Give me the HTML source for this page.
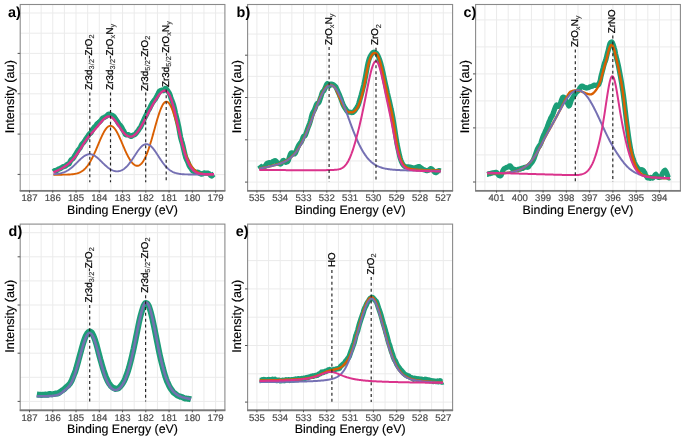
<!DOCTYPE html><html><head><meta charset="utf-8"><style>
html,body{margin:0;padding:0;background:#fff;}
svg{display:block;will-change:transform;}
text{font-family:"Liberation Sans",sans-serif;text-rendering:geometricPrecision;}
.tk{font-size:9.6px;fill:#4d4d4d;text-anchor:middle;stroke:#4d4d4d;stroke-width:0.2px;}
.ax{font-size:12.4px;fill:#000;text-anchor:middle;stroke:#000;stroke-width:0.15px;}
.lb{font-size:9.8px;fill:#000;stroke:#000;stroke-width:0.25px;}
.sb{font-size:7.2px;fill:#333;stroke:#333;stroke-width:0.15px;letter-spacing:0.3px;}
.pl{font-size:14.4px;font-weight:bold;fill:#000;}
</style></head><body><svg width="685" height="437" viewBox="0 0 685 437">
<rect width="685" height="437" fill="#fff"/>
<line x1="20.2" y1="13.00" x2="224.9" y2="13.00" stroke="#ebebeb" stroke-width="1"/>
<line x1="20.2" y1="33.20" x2="224.9" y2="33.20" stroke="#ebebeb" stroke-width="1"/>
<line x1="20.2" y1="53.40" x2="224.9" y2="53.40" stroke="#ebebeb" stroke-width="1"/>
<line x1="20.2" y1="73.60" x2="224.9" y2="73.60" stroke="#ebebeb" stroke-width="1"/>
<line x1="20.2" y1="93.80" x2="224.9" y2="93.80" stroke="#ebebeb" stroke-width="1"/>
<line x1="20.2" y1="114.00" x2="224.9" y2="114.00" stroke="#ebebeb" stroke-width="1"/>
<line x1="20.2" y1="134.20" x2="224.9" y2="134.20" stroke="#ebebeb" stroke-width="1"/>
<line x1="20.2" y1="154.40" x2="224.9" y2="154.40" stroke="#ebebeb" stroke-width="1"/>
<line x1="20.2" y1="174.60" x2="224.9" y2="174.60" stroke="#ebebeb" stroke-width="1"/>
<line x1="215.60" y1="4.5" x2="215.60" y2="190.5" stroke="#ebebeb" stroke-width="1"/>
<line x1="203.96" y1="4.5" x2="203.96" y2="190.5" stroke="#ebebeb" stroke-width="1"/>
<line x1="192.33" y1="4.5" x2="192.33" y2="190.5" stroke="#ebebeb" stroke-width="1"/>
<line x1="180.70" y1="4.5" x2="180.70" y2="190.5" stroke="#ebebeb" stroke-width="1"/>
<line x1="169.07" y1="4.5" x2="169.07" y2="190.5" stroke="#ebebeb" stroke-width="1"/>
<line x1="157.44" y1="4.5" x2="157.44" y2="190.5" stroke="#ebebeb" stroke-width="1"/>
<line x1="145.81" y1="4.5" x2="145.81" y2="190.5" stroke="#ebebeb" stroke-width="1"/>
<line x1="134.18" y1="4.5" x2="134.18" y2="190.5" stroke="#ebebeb" stroke-width="1"/>
<line x1="122.55" y1="4.5" x2="122.55" y2="190.5" stroke="#ebebeb" stroke-width="1"/>
<line x1="110.92" y1="4.5" x2="110.92" y2="190.5" stroke="#ebebeb" stroke-width="1"/>
<line x1="99.29" y1="4.5" x2="99.29" y2="190.5" stroke="#ebebeb" stroke-width="1"/>
<line x1="87.66" y1="4.5" x2="87.66" y2="190.5" stroke="#ebebeb" stroke-width="1"/>
<line x1="76.03" y1="4.5" x2="76.03" y2="190.5" stroke="#ebebeb" stroke-width="1"/>
<line x1="64.40" y1="4.5" x2="64.40" y2="190.5" stroke="#ebebeb" stroke-width="1"/>
<line x1="52.77" y1="4.5" x2="52.77" y2="190.5" stroke="#ebebeb" stroke-width="1"/>
<line x1="41.14" y1="4.5" x2="41.14" y2="190.5" stroke="#ebebeb" stroke-width="1"/>
<line x1="29.50" y1="4.5" x2="29.50" y2="190.5" stroke="#ebebeb" stroke-width="1"/>
<line x1="247.6" y1="12.90" x2="452.6" y2="12.90" stroke="#ebebeb" stroke-width="1"/>
<line x1="247.6" y1="34.05" x2="452.6" y2="34.05" stroke="#ebebeb" stroke-width="1"/>
<line x1="247.6" y1="55.20" x2="452.6" y2="55.20" stroke="#ebebeb" stroke-width="1"/>
<line x1="247.6" y1="76.35" x2="452.6" y2="76.35" stroke="#ebebeb" stroke-width="1"/>
<line x1="247.6" y1="97.50" x2="452.6" y2="97.50" stroke="#ebebeb" stroke-width="1"/>
<line x1="247.6" y1="118.65" x2="452.6" y2="118.65" stroke="#ebebeb" stroke-width="1"/>
<line x1="247.6" y1="139.80" x2="452.6" y2="139.80" stroke="#ebebeb" stroke-width="1"/>
<line x1="247.6" y1="160.95" x2="452.6" y2="160.95" stroke="#ebebeb" stroke-width="1"/>
<line x1="247.6" y1="182.10" x2="452.6" y2="182.10" stroke="#ebebeb" stroke-width="1"/>
<line x1="443.28" y1="4.5" x2="443.28" y2="190.5" stroke="#ebebeb" stroke-width="1"/>
<line x1="431.63" y1="4.5" x2="431.63" y2="190.5" stroke="#ebebeb" stroke-width="1"/>
<line x1="419.99" y1="4.5" x2="419.99" y2="190.5" stroke="#ebebeb" stroke-width="1"/>
<line x1="408.34" y1="4.5" x2="408.34" y2="190.5" stroke="#ebebeb" stroke-width="1"/>
<line x1="396.69" y1="4.5" x2="396.69" y2="190.5" stroke="#ebebeb" stroke-width="1"/>
<line x1="385.04" y1="4.5" x2="385.04" y2="190.5" stroke="#ebebeb" stroke-width="1"/>
<line x1="373.40" y1="4.5" x2="373.40" y2="190.5" stroke="#ebebeb" stroke-width="1"/>
<line x1="361.75" y1="4.5" x2="361.75" y2="190.5" stroke="#ebebeb" stroke-width="1"/>
<line x1="350.10" y1="4.5" x2="350.10" y2="190.5" stroke="#ebebeb" stroke-width="1"/>
<line x1="338.45" y1="4.5" x2="338.45" y2="190.5" stroke="#ebebeb" stroke-width="1"/>
<line x1="326.80" y1="4.5" x2="326.80" y2="190.5" stroke="#ebebeb" stroke-width="1"/>
<line x1="315.16" y1="4.5" x2="315.16" y2="190.5" stroke="#ebebeb" stroke-width="1"/>
<line x1="303.51" y1="4.5" x2="303.51" y2="190.5" stroke="#ebebeb" stroke-width="1"/>
<line x1="291.86" y1="4.5" x2="291.86" y2="190.5" stroke="#ebebeb" stroke-width="1"/>
<line x1="280.21" y1="4.5" x2="280.21" y2="190.5" stroke="#ebebeb" stroke-width="1"/>
<line x1="268.57" y1="4.5" x2="268.57" y2="190.5" stroke="#ebebeb" stroke-width="1"/>
<line x1="256.92" y1="4.5" x2="256.92" y2="190.5" stroke="#ebebeb" stroke-width="1"/>
<line x1="475.6" y1="19.90" x2="680.4" y2="19.90" stroke="#ebebeb" stroke-width="1"/>
<line x1="475.6" y1="46.90" x2="680.4" y2="46.90" stroke="#ebebeb" stroke-width="1"/>
<line x1="475.6" y1="73.90" x2="680.4" y2="73.90" stroke="#ebebeb" stroke-width="1"/>
<line x1="475.6" y1="100.90" x2="680.4" y2="100.90" stroke="#ebebeb" stroke-width="1"/>
<line x1="475.6" y1="127.90" x2="680.4" y2="127.90" stroke="#ebebeb" stroke-width="1"/>
<line x1="475.6" y1="154.90" x2="680.4" y2="154.90" stroke="#ebebeb" stroke-width="1"/>
<line x1="475.6" y1="181.90" x2="680.4" y2="181.90" stroke="#ebebeb" stroke-width="1"/>
<line x1="671.09" y1="4.5" x2="671.09" y2="190.5" stroke="#ebebeb" stroke-width="1"/>
<line x1="659.45" y1="4.5" x2="659.45" y2="190.5" stroke="#ebebeb" stroke-width="1"/>
<line x1="647.82" y1="4.5" x2="647.82" y2="190.5" stroke="#ebebeb" stroke-width="1"/>
<line x1="636.18" y1="4.5" x2="636.18" y2="190.5" stroke="#ebebeb" stroke-width="1"/>
<line x1="624.55" y1="4.5" x2="624.55" y2="190.5" stroke="#ebebeb" stroke-width="1"/>
<line x1="612.91" y1="4.5" x2="612.91" y2="190.5" stroke="#ebebeb" stroke-width="1"/>
<line x1="601.27" y1="4.5" x2="601.27" y2="190.5" stroke="#ebebeb" stroke-width="1"/>
<line x1="589.64" y1="4.5" x2="589.64" y2="190.5" stroke="#ebebeb" stroke-width="1"/>
<line x1="578.00" y1="4.5" x2="578.00" y2="190.5" stroke="#ebebeb" stroke-width="1"/>
<line x1="566.36" y1="4.5" x2="566.36" y2="190.5" stroke="#ebebeb" stroke-width="1"/>
<line x1="554.73" y1="4.5" x2="554.73" y2="190.5" stroke="#ebebeb" stroke-width="1"/>
<line x1="543.09" y1="4.5" x2="543.09" y2="190.5" stroke="#ebebeb" stroke-width="1"/>
<line x1="531.45" y1="4.5" x2="531.45" y2="190.5" stroke="#ebebeb" stroke-width="1"/>
<line x1="519.82" y1="4.5" x2="519.82" y2="190.5" stroke="#ebebeb" stroke-width="1"/>
<line x1="508.18" y1="4.5" x2="508.18" y2="190.5" stroke="#ebebeb" stroke-width="1"/>
<line x1="496.55" y1="4.5" x2="496.55" y2="190.5" stroke="#ebebeb" stroke-width="1"/>
<line x1="484.91" y1="4.5" x2="484.91" y2="190.5" stroke="#ebebeb" stroke-width="1"/>
<line x1="20.2" y1="232.70" x2="224.9" y2="232.70" stroke="#ebebeb" stroke-width="1"/>
<line x1="20.2" y1="256.80" x2="224.9" y2="256.80" stroke="#ebebeb" stroke-width="1"/>
<line x1="20.2" y1="280.90" x2="224.9" y2="280.90" stroke="#ebebeb" stroke-width="1"/>
<line x1="20.2" y1="305.00" x2="224.9" y2="305.00" stroke="#ebebeb" stroke-width="1"/>
<line x1="20.2" y1="329.10" x2="224.9" y2="329.10" stroke="#ebebeb" stroke-width="1"/>
<line x1="20.2" y1="353.20" x2="224.9" y2="353.20" stroke="#ebebeb" stroke-width="1"/>
<line x1="20.2" y1="377.30" x2="224.9" y2="377.30" stroke="#ebebeb" stroke-width="1"/>
<line x1="20.2" y1="401.40" x2="224.9" y2="401.40" stroke="#ebebeb" stroke-width="1"/>
<line x1="215.60" y1="224.1" x2="215.60" y2="410.1" stroke="#ebebeb" stroke-width="1"/>
<line x1="203.96" y1="224.1" x2="203.96" y2="410.1" stroke="#ebebeb" stroke-width="1"/>
<line x1="192.33" y1="224.1" x2="192.33" y2="410.1" stroke="#ebebeb" stroke-width="1"/>
<line x1="180.70" y1="224.1" x2="180.70" y2="410.1" stroke="#ebebeb" stroke-width="1"/>
<line x1="169.07" y1="224.1" x2="169.07" y2="410.1" stroke="#ebebeb" stroke-width="1"/>
<line x1="157.44" y1="224.1" x2="157.44" y2="410.1" stroke="#ebebeb" stroke-width="1"/>
<line x1="145.81" y1="224.1" x2="145.81" y2="410.1" stroke="#ebebeb" stroke-width="1"/>
<line x1="134.18" y1="224.1" x2="134.18" y2="410.1" stroke="#ebebeb" stroke-width="1"/>
<line x1="122.55" y1="224.1" x2="122.55" y2="410.1" stroke="#ebebeb" stroke-width="1"/>
<line x1="110.92" y1="224.1" x2="110.92" y2="410.1" stroke="#ebebeb" stroke-width="1"/>
<line x1="99.29" y1="224.1" x2="99.29" y2="410.1" stroke="#ebebeb" stroke-width="1"/>
<line x1="87.66" y1="224.1" x2="87.66" y2="410.1" stroke="#ebebeb" stroke-width="1"/>
<line x1="76.03" y1="224.1" x2="76.03" y2="410.1" stroke="#ebebeb" stroke-width="1"/>
<line x1="64.40" y1="224.1" x2="64.40" y2="410.1" stroke="#ebebeb" stroke-width="1"/>
<line x1="52.77" y1="224.1" x2="52.77" y2="410.1" stroke="#ebebeb" stroke-width="1"/>
<line x1="41.14" y1="224.1" x2="41.14" y2="410.1" stroke="#ebebeb" stroke-width="1"/>
<line x1="29.50" y1="224.1" x2="29.50" y2="410.1" stroke="#ebebeb" stroke-width="1"/>
<line x1="247.6" y1="232.30" x2="452.6" y2="232.30" stroke="#ebebeb" stroke-width="1"/>
<line x1="247.6" y1="260.60" x2="452.6" y2="260.60" stroke="#ebebeb" stroke-width="1"/>
<line x1="247.6" y1="288.90" x2="452.6" y2="288.90" stroke="#ebebeb" stroke-width="1"/>
<line x1="247.6" y1="317.20" x2="452.6" y2="317.20" stroke="#ebebeb" stroke-width="1"/>
<line x1="247.6" y1="345.50" x2="452.6" y2="345.50" stroke="#ebebeb" stroke-width="1"/>
<line x1="247.6" y1="373.80" x2="452.6" y2="373.80" stroke="#ebebeb" stroke-width="1"/>
<line x1="247.6" y1="402.10" x2="452.6" y2="402.10" stroke="#ebebeb" stroke-width="1"/>
<line x1="443.28" y1="224.1" x2="443.28" y2="410.1" stroke="#ebebeb" stroke-width="1"/>
<line x1="431.63" y1="224.1" x2="431.63" y2="410.1" stroke="#ebebeb" stroke-width="1"/>
<line x1="419.99" y1="224.1" x2="419.99" y2="410.1" stroke="#ebebeb" stroke-width="1"/>
<line x1="408.34" y1="224.1" x2="408.34" y2="410.1" stroke="#ebebeb" stroke-width="1"/>
<line x1="396.69" y1="224.1" x2="396.69" y2="410.1" stroke="#ebebeb" stroke-width="1"/>
<line x1="385.04" y1="224.1" x2="385.04" y2="410.1" stroke="#ebebeb" stroke-width="1"/>
<line x1="373.40" y1="224.1" x2="373.40" y2="410.1" stroke="#ebebeb" stroke-width="1"/>
<line x1="361.75" y1="224.1" x2="361.75" y2="410.1" stroke="#ebebeb" stroke-width="1"/>
<line x1="350.10" y1="224.1" x2="350.10" y2="410.1" stroke="#ebebeb" stroke-width="1"/>
<line x1="338.45" y1="224.1" x2="338.45" y2="410.1" stroke="#ebebeb" stroke-width="1"/>
<line x1="326.80" y1="224.1" x2="326.80" y2="410.1" stroke="#ebebeb" stroke-width="1"/>
<line x1="315.16" y1="224.1" x2="315.16" y2="410.1" stroke="#ebebeb" stroke-width="1"/>
<line x1="303.51" y1="224.1" x2="303.51" y2="410.1" stroke="#ebebeb" stroke-width="1"/>
<line x1="291.86" y1="224.1" x2="291.86" y2="410.1" stroke="#ebebeb" stroke-width="1"/>
<line x1="280.21" y1="224.1" x2="280.21" y2="410.1" stroke="#ebebeb" stroke-width="1"/>
<line x1="268.57" y1="224.1" x2="268.57" y2="410.1" stroke="#ebebeb" stroke-width="1"/>
<line x1="256.92" y1="224.1" x2="256.92" y2="410.1" stroke="#ebebeb" stroke-width="1"/>
<path d="M53.40,171.65 L53.98,171.14 L54.55,170.64 L55.13,170.56 L55.70,170.51 L56.28,170.75 L56.85,170.55 L57.43,170.07 L58.01,169.37 L58.58,168.98 L59.16,168.99 L59.73,168.80 L60.31,168.53 L60.88,168.00 L61.46,167.81 L62.03,167.41 L62.61,167.02 L63.19,166.59 L63.76,166.51 L64.34,166.36 L64.91,166.18 L65.49,165.94 L66.06,165.56 L66.64,165.02 L67.22,164.32 L67.79,164.20 L68.37,164.15 L68.94,163.90 L69.52,163.04 L70.09,161.65 L70.67,160.63 L71.24,159.74 L71.82,159.46 L72.40,159.08 L72.97,158.61 L73.55,157.76 L74.12,156.86 L74.70,155.82 L75.27,154.98 L75.85,154.00 L76.43,153.16 L77.00,152.01 L77.58,151.17 L78.15,150.21 L78.73,149.64 L79.30,148.94 L79.88,148.20 L80.45,147.09 L81.03,145.83 L81.61,144.70 L82.18,143.96 L82.76,143.35 L83.33,142.68 L83.91,142.12 L84.48,141.16 L85.06,140.41 L85.64,139.34 L86.21,138.50 L86.79,137.64 L87.36,136.90 L87.94,136.16 L88.51,135.17 L89.09,134.31 L89.66,133.71 L90.24,133.40 L90.82,132.92 L91.39,132.07 L91.97,130.87 L92.54,129.89 L93.12,128.90 L93.69,128.14 L94.27,127.24 L94.85,126.68 L95.42,126.13 L96.00,125.53 L96.57,124.59 L97.15,123.74 L97.72,123.30 L98.30,122.90 L98.87,122.47 L99.45,121.84 L100.03,121.42 L100.60,120.77 L101.18,120.02 L101.75,119.20 L102.33,118.49 L102.90,117.89 L103.48,117.69 L104.06,117.51 L104.63,117.36 L105.21,116.84 L105.78,116.71 L106.36,116.21 L106.93,115.85 L107.51,115.07 L108.08,114.58 L108.66,114.10 L109.24,114.14 L109.81,114.24 L110.39,114.75 L110.96,114.90 L111.54,115.14 L112.11,115.33 L112.69,115.65 L113.27,115.99 L113.84,116.44 L114.42,117.07 L114.99,118.00 L115.57,118.83 L116.14,119.65 L116.72,120.52 L117.29,121.38 L117.87,122.40 L118.45,123.40 L119.02,124.21 L119.60,124.73 L120.17,125.22 L120.75,125.88 L121.32,126.76 L121.90,127.87 L122.48,128.91 L123.05,130.00 L123.63,130.81 L124.20,131.94 L124.78,133.09 L125.35,134.22 L125.93,134.76 L126.50,134.92 L127.08,134.77 L127.66,134.58 L128.23,134.68 L128.81,134.88 L129.38,135.39 L129.96,135.67 L130.53,136.19 L131.11,136.35 L131.69,136.27 L132.26,135.63 L132.84,135.20 L133.41,135.00 L133.99,134.89 L134.56,134.71 L135.14,134.28 L135.71,133.81 L136.29,132.95 L136.87,132.18 L137.44,131.37 L138.02,130.85 L138.59,129.93 L139.17,129.05 L139.74,128.04 L140.32,127.46 L140.90,126.39 L141.47,125.21 L142.05,123.81 L142.62,122.54 L143.20,121.27 L143.77,120.04 L144.35,118.73 L144.92,117.53 L145.50,116.39 L146.08,115.43 L146.65,114.28 L147.23,112.80 L147.80,111.41 L148.38,110.31 L148.95,109.52 L149.53,108.57 L150.11,107.34 L150.68,106.18 L151.26,104.99 L151.83,103.95 L152.41,102.86 L152.98,102.07 L153.56,101.18 L154.13,100.51 L154.71,99.69 L155.29,99.15 L155.86,98.09 L156.44,96.97 L157.01,95.90 L157.59,94.85 L158.16,93.68 L158.74,92.35 L159.32,91.41 L159.89,90.95 L160.47,90.57 L161.04,90.30 L161.62,90.21 L162.19,90.33 L162.77,90.53 L163.34,90.55 L163.92,90.13 L164.50,89.47 L165.07,88.55 L165.65,88.34 L166.22,88.75 L166.80,89.63 L167.37,90.42 L167.95,91.07 L168.53,92.02 L169.10,92.91 L169.68,94.18 L170.25,95.65 L170.83,97.53 L171.40,99.16 L171.98,100.69 L172.55,102.12 L173.13,103.81 L173.71,105.66 L174.28,107.83 L174.86,110.35 L175.43,113.00 L176.01,115.41 L176.58,117.69 L177.16,120.01 L177.74,122.43 L178.31,125.03 L178.89,127.68 L179.46,130.97 L180.04,134.23 L180.61,137.29 L181.19,139.55 L181.76,141.54 L182.34,143.40 L182.92,145.63 L183.49,148.24 L184.07,150.83 L184.64,153.57 L185.22,155.65 L185.79,157.70 L186.37,159.04 L186.95,160.22 L187.52,161.35 L188.10,162.73 L188.67,164.25 L189.25,165.71 L189.82,166.76 L190.40,167.44 L190.97,168.26 L191.55,169.21 L192.13,170.23 L192.70,170.74 L193.28,171.12 L193.85,171.31 L194.43,171.55 L195.00,171.85 L195.58,172.36 L196.16,172.36 L196.73,172.38 L197.31,172.13 L197.88,172.24 L198.46,172.47 L199.03,172.92 L199.61,173.36 L200.18,173.57 L200.76,173.84 L201.34,174.11 L201.91,174.07 L202.49,173.87 L203.06,173.54 L203.64,173.20 L204.21,173.00 L204.79,172.95 L205.37,173.11 L205.94,173.14 L206.52,173.15 L207.09,173.17 L207.67,173.19 L208.24,173.25 L208.82,173.54 L209.39,173.91 L209.97,174.56 L210.55,175.25 L211.12,175.77 L211.70,175.96 L212.27,175.46 L212.85,175.07 L213.42,174.40 L214.00,174.09" fill="none" stroke="#1b9e77" stroke-width="5.3" stroke-linejoin="round" stroke-linecap="butt" stroke-opacity="1"/>
<path d="M53.40,174.70 L53.98,174.70 L54.55,174.70 L55.13,174.70 L55.70,174.70 L56.28,174.70 L56.85,174.70 L57.43,174.69 L58.01,174.69 L58.58,174.69 L59.16,174.69 L59.73,174.69 L60.31,174.69 L60.88,174.68 L61.46,174.68 L62.03,174.68 L62.61,174.67 L63.19,174.67 L63.76,174.66 L64.34,174.65 L64.91,174.64 L65.49,174.63 L66.06,174.62 L66.64,174.60 L67.22,174.59 L67.79,174.57 L68.37,174.54 L68.94,174.52 L69.52,174.49 L70.09,174.45 L70.67,174.41 L71.24,174.37 L71.82,174.31 L72.40,174.25 L72.97,174.19 L73.55,174.11 L74.12,174.02 L74.70,173.93 L75.27,173.82 L75.85,173.69 L76.43,173.55 L77.00,173.40 L77.58,173.23 L78.15,173.04 L78.73,172.83 L79.30,172.59 L79.88,172.34 L80.45,172.05 L81.03,171.74 L81.61,171.40 L82.18,171.03 L82.76,170.62 L83.33,170.19 L83.91,169.71 L84.48,169.19 L85.06,168.64 L85.64,168.04 L86.21,167.41 L86.79,166.72 L87.36,166.00 L87.94,165.22 L88.51,164.40 L89.09,163.53 L89.66,162.62 L90.24,161.66 L90.82,160.65 L91.39,159.60 L91.97,158.50 L92.54,157.36 L93.12,156.18 L93.69,154.97 L94.27,153.72 L94.85,152.44 L95.42,151.13 L96.00,149.79 L96.57,148.44 L97.15,147.08 L97.72,145.70 L98.30,144.33 L98.87,142.95 L99.45,141.59 L100.03,140.24 L100.60,138.91 L101.18,137.62 L101.75,136.36 L102.33,135.14 L102.90,133.97 L103.48,132.85 L104.06,131.80 L104.63,130.82 L105.21,129.91 L105.78,129.08 L106.36,128.33 L106.93,127.67 L107.51,127.11 L108.08,126.64 L108.66,126.28 L109.24,126.01 L109.81,125.85 L110.39,125.80 L110.96,125.85 L111.54,126.00 L112.11,126.26 L112.69,126.62 L113.27,127.08 L113.84,127.64 L114.42,128.29 L114.99,129.03 L115.57,129.85 L116.14,130.76 L116.72,131.74 L117.29,132.78 L117.87,133.89 L118.45,135.05 L119.02,136.26 L119.60,137.51 L120.17,138.80 L120.75,140.11 L121.32,141.45 L121.90,142.80 L122.48,144.15 L123.05,145.51 L123.63,146.86 L124.20,148.20 L124.78,149.52 L125.35,150.81 L125.93,152.08 L126.50,153.31 L127.08,154.51 L127.66,155.66 L128.23,156.76 L128.81,157.82 L129.38,158.82 L129.96,159.76 L130.53,160.64 L131.11,161.46 L131.69,162.22 L132.26,162.91 L132.84,163.52 L133.41,164.07 L133.99,164.55 L134.56,164.95 L135.14,165.27 L135.71,165.52 L136.29,165.69 L136.87,165.78 L137.44,165.79 L138.02,165.72 L138.59,165.57 L139.17,165.33 L139.74,165.01 L140.32,164.60 L140.90,164.10 L141.47,163.52 L142.05,162.85 L142.62,162.09 L143.20,161.24 L143.77,160.30 L144.35,159.27 L144.92,158.16 L145.50,156.96 L146.08,155.67 L146.65,154.30 L147.23,152.84 L147.80,151.31 L148.38,149.70 L148.95,148.02 L149.53,146.26 L150.11,144.45 L150.68,142.58 L151.26,140.65 L151.83,138.68 L152.41,136.67 L152.98,134.63 L153.56,132.58 L154.13,130.50 L154.71,128.43 L155.29,126.36 L155.86,124.30 L156.44,122.28 L157.01,120.29 L157.59,118.35 L158.16,116.47 L158.74,114.65 L159.32,112.92 L159.89,111.28 L160.47,109.74 L161.04,108.31 L161.62,107.00 L162.19,105.81 L162.77,104.76 L163.34,103.85 L163.92,103.09 L164.50,102.48 L165.07,102.03 L165.65,101.74 L166.22,101.61 L166.80,101.64 L167.37,101.83 L167.95,102.19 L168.53,102.70 L169.10,103.37 L169.68,104.19 L170.25,105.15 L170.83,106.26 L171.40,107.50 L171.98,108.86 L172.55,110.33 L173.13,111.92 L173.71,113.60 L174.28,115.37 L174.86,117.21 L175.43,119.13 L176.01,121.09 L176.58,123.11 L177.16,125.15 L177.74,127.23 L178.31,129.31 L178.89,131.40 L179.46,133.49 L180.04,135.57 L180.61,137.62 L181.19,139.64 L181.76,141.63 L182.34,143.57 L182.92,145.46 L183.49,147.30 L184.07,149.08 L184.64,150.80 L185.22,152.45 L185.79,154.04 L186.37,155.55 L186.95,157.00 L187.52,158.37 L188.10,159.66 L188.67,160.89 L189.25,162.04 L189.82,163.13 L190.40,164.14 L190.97,165.09 L191.55,165.97 L192.13,166.79 L192.70,167.54 L193.28,168.24 L193.85,168.89 L194.43,169.48 L195.00,170.02 L195.58,170.52 L196.16,170.97 L196.73,171.38 L197.31,171.75 L197.88,172.08 L198.46,172.39 L199.03,172.66 L199.61,172.90 L200.18,173.12 L200.76,173.32 L201.34,173.49 L201.91,173.64 L202.49,173.78 L203.06,173.90 L203.64,174.01 L204.21,174.10 L204.79,174.18 L205.37,174.25 L205.94,174.32 L206.52,174.37 L207.09,174.42 L207.67,174.46 L208.24,174.50 L208.82,174.53 L209.39,174.55 L209.97,174.58 L210.55,174.60 L211.12,174.61 L211.70,174.63 L212.27,174.64 L212.85,174.65 L213.42,174.66 L214.00,174.66" fill="none" stroke="#d95f02" stroke-width="1.9" stroke-linejoin="round" stroke-linecap="butt" stroke-opacity="1"/>
<path d="M53.40,174.24 L53.98,174.20 L54.55,174.16 L55.13,174.11 L55.70,174.05 L56.28,173.99 L56.85,173.93 L57.43,173.85 L58.01,173.77 L58.58,173.67 L59.16,173.57 L59.73,173.46 L60.31,173.33 L60.88,173.20 L61.46,173.05 L62.03,172.88 L62.61,172.70 L63.19,172.51 L63.76,172.30 L64.34,172.08 L64.91,171.84 L65.49,171.58 L66.06,171.30 L66.64,171.00 L67.22,170.68 L67.79,170.35 L68.37,169.99 L68.94,169.61 L69.52,169.22 L70.09,168.80 L70.67,168.37 L71.24,167.91 L71.82,167.44 L72.40,166.95 L72.97,166.45 L73.55,165.93 L74.12,165.40 L74.70,164.85 L75.27,164.30 L75.85,163.73 L76.43,163.16 L77.00,162.59 L77.58,162.01 L78.15,161.44 L78.73,160.86 L79.30,160.30 L79.88,159.74 L80.45,159.20 L81.03,158.67 L81.61,158.15 L82.18,157.66 L82.76,157.19 L83.33,156.75 L83.91,156.33 L84.48,155.95 L85.06,155.59 L85.64,155.28 L86.21,155.00 L86.79,154.76 L87.36,154.56 L87.94,154.41 L88.51,154.29 L89.09,154.22 L89.66,154.20 L90.24,154.22 L90.82,154.28 L91.39,154.39 L91.97,154.54 L92.54,154.73 L93.12,154.97 L93.69,155.24 L94.27,155.55 L94.85,155.90 L95.42,156.28 L96.00,156.69 L96.57,157.13 L97.15,157.59 L97.72,158.08 L98.30,158.59 L98.87,159.12 L99.45,159.66 L100.03,160.21 L100.60,160.78 L101.18,161.34 L101.75,161.91 L102.33,162.48 L102.90,163.05 L103.48,163.62 L104.06,164.17 L104.63,164.72 L105.21,165.25 L105.78,165.77 L106.36,166.28 L106.93,166.77 L107.51,167.24 L108.08,167.69 L108.66,168.11 L109.24,168.52 L109.81,168.90 L110.39,169.25 L110.96,169.58 L111.54,169.89 L112.11,170.16 L112.69,170.41 L113.27,170.63 L113.84,170.82 L114.42,170.98 L114.99,171.12 L115.57,171.22 L116.14,171.29 L116.72,171.33 L117.29,171.33 L117.87,171.31 L118.45,171.25 L119.02,171.16 L119.60,171.04 L120.17,170.88 L120.75,170.68 L121.32,170.45 L121.90,170.19 L122.48,169.89 L123.05,169.55 L123.63,169.18 L124.20,168.77 L124.78,168.32 L125.35,167.83 L125.93,167.31 L126.50,166.75 L127.08,166.16 L127.66,165.53 L128.23,164.87 L128.81,164.18 L129.38,163.45 L129.96,162.70 L130.53,161.92 L131.11,161.11 L131.69,160.29 L132.26,159.44 L132.84,158.58 L133.41,157.71 L133.99,156.82 L134.56,155.94 L135.14,155.05 L135.71,154.17 L136.29,153.29 L136.87,152.43 L137.44,151.59 L138.02,150.77 L138.59,149.98 L139.17,149.22 L139.74,148.50 L140.32,147.82 L140.90,147.18 L141.47,146.60 L142.05,146.07 L142.62,145.59 L143.20,145.18 L143.77,144.83 L144.35,144.55 L144.92,144.33 L145.50,144.19 L146.08,144.11 L146.65,144.11 L147.23,144.17 L147.80,144.31 L148.38,144.52 L148.95,144.79 L149.53,145.13 L150.11,145.54 L150.68,146.00 L151.26,146.53 L151.83,147.11 L152.41,147.74 L152.98,148.41 L153.56,149.13 L154.13,149.89 L154.71,150.68 L155.29,151.50 L155.86,152.34 L156.44,153.20 L157.01,154.08 L157.59,154.96 L158.16,155.85 L158.74,156.74 L159.32,157.63 L159.89,158.51 L160.47,159.38 L161.04,160.24 L161.62,161.08 L162.19,161.90 L162.77,162.70 L163.34,163.47 L163.92,164.22 L164.50,164.93 L165.07,165.62 L165.65,166.28 L166.22,166.91 L166.80,167.50 L167.37,168.07 L167.95,168.60 L168.53,169.10 L169.10,169.57 L169.68,170.01 L170.25,170.42 L170.83,170.80 L171.40,171.16 L171.98,171.48 L172.55,171.78 L173.13,172.06 L173.71,172.31 L174.28,172.55 L174.86,172.76 L175.43,172.95 L176.01,173.12 L176.58,173.28 L177.16,173.42 L177.74,173.55 L178.31,173.67 L178.89,173.77 L179.46,173.86 L180.04,173.94 L180.61,174.01 L181.19,174.08 L181.76,174.13 L182.34,174.18 L182.92,174.23 L183.49,174.26 L184.07,174.30 L184.64,174.33 L185.22,174.35 L185.79,174.37 L186.37,174.39 L186.95,174.41 L187.52,174.42 L188.10,174.43 L188.67,174.44 L189.25,174.45 L189.82,174.46 L190.40,174.47 L190.97,174.47 L191.55,174.48 L192.13,174.48 L192.70,174.48 L193.28,174.49 L193.85,174.49 L194.43,174.49 L195.00,174.49 L195.58,174.49 L196.16,174.50 L196.73,174.50 L197.31,174.50 L197.88,174.50 L198.46,174.50 L199.03,174.50 L199.61,174.50 L200.18,174.50 L200.76,174.50 L201.34,174.50 L201.91,174.50 L202.49,174.50 L203.06,174.50 L203.64,174.50 L204.21,174.50 L204.79,174.50 L205.37,174.50 L205.94,174.50 L206.52,174.50 L207.09,174.50 L207.67,174.50 L208.24,174.50 L208.82,174.50 L209.39,174.50 L209.97,174.50 L210.55,174.50 L211.12,174.50 L211.70,174.50 L212.27,174.50 L212.85,174.50 L213.42,174.50 L214.00,174.50" fill="none" stroke="#7570b3" stroke-width="1.9" stroke-linejoin="round" stroke-linecap="butt" stroke-opacity="1"/>
<path d="M53.40,172.44 L53.98,172.19 L54.55,171.93 L55.13,171.68 L55.70,171.42 L56.28,171.16 L56.85,170.89 L57.43,170.62 L58.01,170.35 L58.58,170.07 L59.16,169.78 L59.73,169.49 L60.31,169.19 L60.88,168.88 L61.46,168.57 L62.03,168.24 L62.61,167.91 L63.19,167.56 L63.76,167.21 L64.34,166.84 L64.91,166.46 L65.49,166.06 L66.06,165.65 L66.64,165.22 L67.22,164.78 L67.79,164.32 L68.37,163.84 L68.94,163.34 L69.52,162.82 L70.09,162.28 L70.67,161.72 L71.24,161.14 L71.82,160.53 L72.40,159.90 L72.97,159.25 L73.55,158.57 L74.12,157.87 L74.70,157.15 L75.27,156.40 L75.85,155.63 L76.43,154.84 L77.00,154.03 L77.58,153.20 L78.15,152.35 L78.73,151.48 L79.30,150.60 L79.88,149.70 L80.45,148.79 L81.03,147.88 L81.61,146.96 L82.18,146.04 L82.76,145.13 L83.33,144.21 L83.91,143.31 L84.48,142.42 L85.06,141.55 L85.64,140.69 L86.21,139.86 L86.79,139.05 L87.36,138.27 L87.94,137.51 L88.51,136.77 L89.09,136.06 L89.66,135.37 L90.24,134.70 L90.82,134.04 L91.39,133.39 L91.97,132.75 L92.54,132.12 L93.12,131.48 L93.69,130.85 L94.27,130.21 L94.85,129.56 L95.42,128.91 L96.00,128.24 L96.57,127.57 L97.15,126.89 L97.72,126.20 L98.30,125.50 L98.87,124.80 L99.45,124.10 L100.03,123.39 L100.60,122.70 L101.18,122.01 L101.75,121.34 L102.33,120.68 L102.90,120.06 L103.48,119.46 L104.06,118.90 L104.63,118.39 L105.21,117.92 L105.78,117.51 L106.36,117.16 L106.93,116.87 L107.51,116.66 L108.08,116.51 L108.66,116.44 L109.24,116.45 L109.81,116.54 L110.39,116.71 L110.96,116.96 L111.54,117.28 L112.11,117.68 L112.69,118.14 L113.27,118.68 L113.84,119.27 L114.42,119.92 L114.99,120.62 L115.57,121.36 L116.14,122.14 L116.72,122.95 L117.29,123.78 L117.87,124.62 L118.45,125.48 L119.02,126.34 L119.60,127.19 L120.17,128.04 L120.75,128.87 L121.32,129.67 L121.90,130.46 L122.48,131.21 L123.05,131.92 L123.63,132.60 L124.20,133.23 L124.78,133.82 L125.35,134.36 L125.93,134.85 L126.50,135.28 L127.08,135.66 L127.66,135.98 L128.23,136.23 L128.81,136.43 L129.38,136.57 L129.96,136.64 L130.53,136.65 L131.11,136.60 L131.69,136.48 L132.26,136.30 L132.84,136.06 L133.41,135.75 L133.99,135.39 L134.56,134.96 L135.14,134.48 L135.71,133.94 L136.29,133.34 L136.87,132.69 L137.44,132.00 L138.02,131.25 L138.59,130.46 L139.17,129.62 L139.74,128.75 L140.32,127.84 L140.90,126.89 L141.47,125.91 L142.05,124.90 L142.62,123.87 L143.20,122.82 L143.77,121.74 L144.35,120.65 L144.92,119.55 L145.50,118.44 L146.08,117.32 L146.65,116.20 L147.23,115.07 L147.80,113.95 L148.38,112.83 L148.95,111.72 L149.53,110.61 L150.11,109.52 L150.68,108.44 L151.26,107.37 L151.83,106.32 L152.41,105.29 L152.98,104.27 L153.56,103.27 L154.13,102.29 L154.71,101.33 L155.29,100.40 L155.86,99.48 L156.44,98.59 L157.01,97.73 L157.59,96.89 L158.16,96.09 L158.74,95.31 L159.32,94.58 L159.89,93.88 L160.47,93.24 L161.04,92.65 L161.62,92.11 L162.19,91.65 L162.77,91.27 L163.34,90.97 L163.92,90.76 L164.50,90.66 L165.07,90.67 L165.65,90.80 L166.22,91.06 L166.80,91.45 L167.37,91.98 L167.95,92.66 L168.53,93.49 L169.10,94.48 L169.68,95.61 L170.25,96.91 L170.83,98.35 L171.40,99.94 L171.98,101.67 L172.55,103.54 L173.13,105.53 L173.71,107.65 L174.28,109.87 L174.86,112.18 L175.43,114.57 L176.01,117.04 L176.58,119.55 L177.16,122.11 L177.74,124.69 L178.31,127.28 L178.89,129.87 L179.46,132.44 L180.04,134.98 L180.61,137.47 L181.19,139.91 L181.76,142.29 L182.34,144.59 L182.92,146.81 L183.49,148.94 L184.07,150.98 L184.64,152.92 L185.22,154.76 L185.79,156.49 L186.37,158.12 L186.95,159.65 L187.52,161.07 L188.10,162.39 L188.67,163.60 L189.25,164.73 L189.82,165.76 L190.40,166.70 L190.97,167.56 L191.55,168.34 L192.13,169.04 L192.70,169.68 L193.28,170.25 L193.85,170.76 L194.43,171.22 L195.00,171.62 L195.58,171.98 L196.16,172.30 L196.73,172.58 L197.31,172.82 L197.88,173.04 L198.46,173.23 L199.03,173.39 L199.61,173.53 L200.18,173.65 L200.76,173.76 L201.34,173.85 L201.91,173.93 L202.49,173.99 L203.06,174.05 L203.64,174.10 L204.21,174.14 L204.79,174.17 L205.37,174.20 L205.94,174.22 L206.52,174.23 L207.09,174.25 L207.67,174.25 L208.24,174.26 L208.82,174.26 L209.39,174.26 L209.97,174.26 L210.55,174.26 L211.12,174.25 L211.70,174.25 L212.27,174.24 L212.85,174.23 L213.42,174.21 L214.00,174.20" fill="none" stroke="#da338c" stroke-width="2.4" stroke-linejoin="round" stroke-linecap="butt" stroke-opacity="1"/>
<path d="M259.30,165.12 L259.91,165.91 L260.51,166.93 L261.12,167.77 L261.73,167.93 L262.34,167.38 L262.94,166.86 L263.55,166.65 L264.16,166.73 L264.76,166.57 L265.37,165.87 L265.98,164.77 L266.58,163.77 L267.19,163.29 L267.80,162.95 L268.41,162.84 L269.01,162.57 L269.62,162.64 L270.23,162.82 L270.83,162.81 L271.44,162.66 L272.05,162.12 L272.65,161.70 L273.26,161.32 L273.87,161.05 L274.48,160.87 L275.08,160.53 L275.69,160.84 L276.30,161.38 L276.90,162.39 L277.51,162.90 L278.12,163.21 L278.72,163.35 L279.33,163.54 L279.94,163.88 L280.55,164.02 L281.15,163.62 L281.76,162.56 L282.37,161.36 L282.97,160.46 L283.58,160.39 L284.19,160.73 L284.79,161.79 L285.40,162.27 L286.01,162.39 L286.62,162.00 L287.22,161.85 L287.83,161.39 L288.44,160.24 L289.04,158.29 L289.65,156.31 L290.26,154.53 L290.87,153.30 L291.47,152.81 L292.08,152.73 L292.69,153.06 L293.29,153.31 L293.90,153.75 L294.51,153.99 L295.11,153.44 L295.72,152.36 L296.33,150.80 L296.94,149.42 L297.54,147.71 L298.15,146.34 L298.76,145.07 L299.36,144.15 L299.97,143.48 L300.58,142.71 L301.18,142.09 L301.79,140.66 L302.40,139.22 L303.01,137.25 L303.61,136.27 L304.22,135.80 L304.83,135.93 L305.43,135.07 L306.04,133.45 L306.65,131.58 L307.25,129.71 L307.86,128.13 L308.47,126.46 L309.08,124.92 L309.68,123.33 L310.29,121.42 L310.90,119.09 L311.50,116.43 L312.11,114.27 L312.72,112.78 L313.33,111.74 L313.93,110.69 L314.54,109.47 L315.15,108.17 L315.75,106.42 L316.36,104.77 L316.97,103.69 L317.57,103.17 L318.18,103.24 L318.79,102.56 L319.40,101.31 L320.00,99.39 L320.61,97.60 L321.22,95.77 L321.82,93.75 L322.43,92.16 L323.04,91.39 L323.64,90.95 L324.25,90.02 L324.86,88.65 L325.47,87.15 L326.07,85.70 L326.68,84.44 L327.29,83.66 L327.89,83.74 L328.50,84.26 L329.11,85.12 L329.71,85.70 L330.32,84.29 L330.93,84.16 L331.54,84.07 L332.14,84.22 L332.75,84.42 L333.36,84.65 L333.96,85.06 L334.57,85.65 L335.18,86.17 L335.78,86.80 L336.39,88.01 L337.00,89.33 L337.61,90.92 L338.21,92.16 L338.82,93.58 L339.43,94.93 L340.03,96.43 L340.64,98.07 L341.25,99.57 L341.86,101.41 L342.46,102.96 L343.07,104.59 L343.68,105.82 L344.28,106.94 L344.89,107.80 L345.50,108.80 L346.10,109.63 L346.71,110.71 L347.32,111.25 L347.93,111.95 L348.53,112.11 L349.14,112.23 L349.75,112.02 L350.35,112.29 L350.96,112.37 L351.57,112.56 L352.17,112.60 L352.78,112.44 L353.39,112.05 L354.00,111.56 L354.60,110.95 L355.21,110.16 L355.82,109.20 L356.42,108.17 L357.03,107.38 L357.64,106.29 L358.24,104.96 L358.85,103.12 L359.46,101.12 L360.07,99.11 L360.67,96.91 L361.28,94.75 L361.89,92.33 L362.49,90.14 L363.10,87.73 L363.71,85.36 L364.32,82.65 L364.92,79.57 L365.53,76.46 L366.14,73.05 L366.74,69.74 L367.35,66.38 L367.96,63.40 L368.56,61.03 L369.17,59.06 L369.78,57.52 L370.39,56.17 L370.99,55.12 L371.60,54.24 L372.21,53.35 L372.81,52.61 L373.42,52.23 L374.03,52.17 L374.63,52.47 L375.24,52.56 L375.85,52.91 L376.46,53.34 L377.06,54.17 L377.67,55.16 L378.28,56.40 L378.88,57.80 L379.49,59.42 L380.10,61.31 L380.70,63.23 L381.31,65.54 L381.92,67.80 L382.53,70.55 L383.13,73.19 L383.74,76.06 L384.35,79.01 L384.95,81.77 L385.56,84.47 L386.17,87.01 L386.77,89.77 L387.38,92.74 L387.99,95.35 L388.60,98.01 L389.20,100.33 L389.81,103.05 L390.42,105.71 L391.02,108.65 L391.63,111.25 L392.24,114.23 L392.85,117.56 L393.45,121.21 L394.06,124.91 L394.67,128.73 L395.27,132.57 L395.88,136.60 L396.49,140.47 L397.09,144.13 L397.70,147.09 L398.31,150.05 L398.92,152.78 L399.52,155.51 L400.13,157.79 L400.74,159.74 L401.34,161.46 L401.95,162.74 L402.56,163.95 L403.16,164.81 L403.77,165.55 L404.38,166.17 L404.99,166.54 L405.59,166.77 L406.20,166.78 L406.81,166.90 L407.41,166.88 L408.02,166.88 L408.63,166.88 L409.23,167.00 L409.84,167.13 L410.45,167.14 L411.06,167.47 L411.66,167.75 L412.27,167.99 L412.88,167.89 L413.48,168.01 L414.09,167.99 L414.70,167.97 L415.31,167.70 L415.91,167.52 L416.52,167.37 L417.13,167.02 L417.73,166.93 L418.34,166.60 L418.95,166.76 L419.55,166.71 L420.16,167.33 L420.77,167.63 L421.38,168.16 L421.98,168.54 L422.59,169.17 L423.20,169.49 L423.80,169.74 L424.41,169.79 L425.02,170.16 L425.62,170.37 L426.23,170.60 L426.84,170.61 L427.45,170.59 L428.05,170.37 L428.66,170.09 L429.27,169.74 L429.87,169.11 L430.48,168.74 L431.09,168.51 L431.69,168.98 L432.30,169.35 L432.91,170.05 L433.52,170.70 L434.12,171.66 L434.73,172.30 L435.34,172.71 L435.94,172.69 L436.55,172.35 L437.16,171.72 L437.76,171.14 L438.37,170.71 L438.98,170.59 L439.59,170.59 L440.19,170.80 L440.80,170.95" fill="none" stroke="#1b9e77" stroke-width="5.2" stroke-linejoin="round" stroke-linecap="butt" stroke-opacity="1"/>
<path d="M259.30,168.49 L259.91,168.39 L260.51,168.28 L261.12,168.17 L261.73,168.06 L262.34,167.95 L262.94,167.84 L263.55,167.72 L264.16,167.60 L264.76,167.47 L265.37,167.35 L265.98,167.22 L266.58,167.09 L267.19,166.96 L267.80,166.82 L268.41,166.69 L269.01,166.55 L269.62,166.40 L270.23,166.26 L270.83,166.11 L271.44,165.96 L272.05,165.81 L272.65,165.66 L273.26,165.50 L273.87,165.34 L274.48,165.17 L275.08,165.01 L275.69,164.83 L276.30,164.66 L276.90,164.48 L277.51,164.29 L278.12,164.10 L278.72,163.90 L279.33,163.70 L279.94,163.48 L280.55,163.26 L281.15,163.04 L281.76,162.80 L282.37,162.55 L282.97,162.29 L283.58,162.02 L284.19,161.73 L284.79,161.43 L285.40,161.11 L286.01,160.78 L286.62,160.43 L287.22,160.07 L287.83,159.68 L288.44,159.27 L289.04,158.84 L289.65,158.38 L290.26,157.90 L290.87,157.40 L291.47,156.87 L292.08,156.30 L292.69,155.71 L293.29,155.09 L293.90,154.44 L294.51,153.75 L295.11,153.03 L295.72,152.28 L296.33,151.49 L296.94,150.66 L297.54,149.80 L298.15,148.89 L298.76,147.95 L299.36,146.97 L299.97,145.96 L300.58,144.90 L301.18,143.80 L301.79,142.67 L302.40,141.49 L303.01,140.28 L303.61,139.03 L304.22,137.75 L304.83,136.42 L305.43,135.07 L306.04,133.68 L306.65,132.25 L307.25,130.80 L307.86,129.32 L308.47,127.81 L309.08,126.28 L309.68,124.73 L310.29,123.15 L310.90,121.56 L311.50,119.96 L312.11,118.35 L312.72,116.73 L313.33,115.10 L313.93,113.47 L314.54,111.85 L315.15,110.24 L315.75,108.63 L316.36,107.04 L316.97,105.47 L317.57,103.92 L318.18,102.41 L318.79,100.92 L319.40,99.47 L320.00,98.06 L320.61,96.70 L321.22,95.39 L321.82,94.13 L322.43,92.93 L323.04,91.80 L323.64,90.74 L324.25,89.75 L324.86,88.84 L325.47,88.02 L326.07,87.28 L326.68,86.64 L327.29,86.09 L327.89,85.64 L328.50,85.29 L329.11,85.05 L329.71,84.92 L330.32,84.89 L330.93,84.97 L331.54,85.15 L332.14,85.42 L332.75,85.78 L333.36,86.23 L333.96,86.76 L334.57,87.35 L335.18,88.01 L335.78,88.91 L336.39,90.28 L337.00,91.66 L337.61,93.05 L338.21,94.45 L338.82,95.84 L339.43,97.24 L340.03,98.62 L340.64,99.98 L341.25,101.33 L341.86,102.64 L342.46,103.91 L343.07,105.14 L343.68,106.32 L344.28,107.44 L344.89,108.49 L345.50,109.47 L346.10,110.36 L346.71,111.16 L347.32,111.70 L347.93,112.01 L348.53,112.15 L349.14,112.19 L349.75,112.20 L350.35,112.25 L350.96,112.37 L351.57,112.41 L352.17,112.35 L352.78,112.19 L353.39,111.93 L354.00,111.58 L354.60,111.12 L355.21,110.56 L355.82,109.89 L356.42,109.12 L357.03,108.25 L357.64,107.26 L358.24,106.09 L358.85,104.71 L359.46,103.14 L360.07,101.40 L360.67,99.49 L361.28,97.44 L361.89,95.26 L362.49,92.98 L363.10,90.60 L363.71,87.96 L364.32,85.04 L364.92,81.91 L365.53,78.65 L366.14,75.36 L366.74,72.12 L367.35,69.02 L367.96,66.15 L368.56,63.61 L369.17,61.44 L369.78,59.55 L370.39,57.91 L370.99,56.53 L371.60,55.39 L372.21,54.49 L372.81,53.81 L373.42,53.34 L374.03,53.07 L374.63,52.99 L375.24,53.06 L375.85,53.27 L376.46,53.70 L377.06,54.43 L377.67,55.43 L378.28,56.71 L378.88,58.26 L379.49,60.05 L380.10,62.08 L380.70,64.31 L381.31,66.72 L381.92,69.28 L382.53,71.97 L383.13,74.72 L383.74,77.49 L384.35,80.26 L384.95,83.00 L385.56,85.72 L386.17,88.39 L386.77,91.04 L387.38,93.66 L387.99,96.27 L388.60,98.88 L389.20,101.49 L389.81,104.13 L390.42,106.81 L391.02,109.53 L391.63,112.30 L392.24,115.27 L392.85,118.67 L393.45,122.27 L394.06,126.02 L394.67,129.85 L395.27,133.70 L395.88,137.47 L396.49,141.11 L397.09,144.55 L397.70,147.75 L398.31,150.67 L398.92,153.29 L399.52,155.61 L400.13,157.64 L400.74,159.40 L401.34,160.91 L401.95,162.20 L402.56,163.29 L403.16,164.21 L403.77,165.00 L404.38,165.67 L404.99,166.23 L405.59,166.71 L406.20,167.13 L406.81,167.48 L407.41,167.79 L408.02,168.06 L408.63,168.29 L409.23,168.49 L409.84,168.67 L410.45,168.82 L411.06,168.96 L411.66,169.08 L412.27,169.19 L412.88,169.29 L413.48,169.37 L414.09,169.45 L414.70,169.52 L415.31,169.58 L415.91,169.64 L416.52,169.69 L417.13,169.74 L417.73,169.78 L418.34,169.83 L418.95,169.87 L419.55,169.90 L420.16,169.94 L420.77,169.97 L421.38,170.00 L421.98,170.03 L422.59,170.06 L423.20,170.09 L423.80,170.11 L424.41,170.14 L425.02,170.16 L425.62,170.19 L426.23,170.21 L426.84,170.23 L427.45,170.25 L428.05,170.28 L428.66,170.30 L429.27,170.32 L429.87,170.34 L430.48,170.35 L431.09,170.37 L431.69,170.39 L432.30,170.41 L432.91,170.43 L433.52,170.44 L434.12,170.46 L434.73,170.48 L435.34,170.49 L435.94,170.51 L436.55,170.52 L437.16,170.54 L437.76,170.55 L438.37,170.56 L438.98,170.58 L439.59,170.59 L440.19,170.60 L440.80,170.62" fill="none" stroke="#d95f02" stroke-width="2.4" stroke-linejoin="round" stroke-linecap="butt" stroke-opacity="1"/>
<path d="M259.30,168.60 L259.91,168.50 L260.51,168.40 L261.12,168.29 L261.73,168.18 L262.34,168.07 L262.94,167.96 L263.55,167.84 L264.16,167.72 L264.76,167.60 L265.37,167.47 L265.98,167.35 L266.58,167.22 L267.19,167.09 L267.80,166.95 L268.41,166.82 L269.01,166.68 L269.62,166.54 L270.23,166.40 L270.83,166.25 L271.44,166.10 L272.05,165.95 L272.65,165.80 L273.26,165.64 L273.87,165.48 L274.48,165.32 L275.08,165.16 L275.69,164.99 L276.30,164.81 L276.90,164.63 L277.51,164.45 L278.12,164.26 L278.72,164.06 L279.33,163.86 L279.94,163.65 L280.55,163.43 L281.15,163.21 L281.76,162.97 L282.37,162.72 L282.97,162.46 L283.58,162.19 L284.19,161.91 L284.79,161.61 L285.40,161.30 L286.01,160.97 L286.62,160.62 L287.22,160.26 L287.83,159.87 L288.44,159.47 L289.04,159.04 L289.65,158.59 L290.26,158.11 L290.87,157.61 L291.47,157.08 L292.08,156.52 L292.69,155.93 L293.29,155.31 L293.90,154.66 L294.51,153.98 L295.11,153.27 L295.72,152.51 L296.33,151.73 L296.94,150.90 L297.54,150.04 L298.15,149.14 L298.76,148.21 L299.36,147.23 L299.97,146.22 L300.58,145.16 L301.18,144.07 L301.79,142.94 L302.40,141.77 L303.01,140.56 L303.61,139.32 L304.22,138.04 L304.83,136.72 L305.43,135.37 L306.04,133.98 L306.65,132.57 L307.25,131.12 L307.86,129.64 L308.47,128.14 L309.08,126.62 L309.68,125.07 L310.29,123.50 L310.90,121.92 L311.50,120.32 L312.11,118.71 L312.72,117.10 L313.33,115.48 L313.93,113.86 L314.54,112.25 L315.15,110.64 L315.75,109.04 L316.36,107.46 L316.97,105.90 L317.57,104.36 L318.18,102.85 L318.79,101.37 L319.40,99.93 L320.00,98.53 L320.61,97.18 L321.22,95.88 L321.82,94.63 L322.43,93.44 L323.04,92.32 L323.64,91.27 L324.25,90.28 L324.86,89.38 L325.47,88.55 L326.07,87.81 L326.68,87.16 L327.29,86.59 L327.89,86.12 L328.50,85.74 L329.11,85.46 L329.71,85.28 L330.32,85.20 L330.93,85.21 L331.54,85.33 L332.14,85.54 L332.75,85.85 L333.36,86.26 L333.96,86.76 L334.57,87.35 L335.18,88.04 L335.78,88.81 L336.39,89.66 L337.00,90.60 L337.61,91.61 L338.21,92.70 L338.82,93.85 L339.43,95.07 L340.03,96.35 L340.64,97.68 L341.25,99.07 L341.86,100.50 L342.46,101.97 L343.07,103.49 L343.68,105.03 L344.28,106.61 L344.89,108.21 L345.50,109.83 L346.10,111.47 L346.71,113.12 L347.32,114.78 L347.93,116.44 L348.53,118.10 L349.14,119.77 L349.75,121.42 L350.35,123.07 L350.96,124.71 L351.57,126.33 L352.17,127.93 L352.78,129.52 L353.39,131.08 L354.00,132.62 L354.60,134.13 L355.21,135.61 L355.82,137.06 L356.42,138.48 L357.03,139.87 L357.64,141.23 L358.24,142.54 L358.85,143.83 L359.46,145.07 L360.07,146.28 L360.67,147.45 L361.28,148.58 L361.89,149.68 L362.49,150.73 L363.10,151.75 L363.71,152.72 L364.32,153.66 L364.92,154.57 L365.53,155.43 L366.14,156.26 L366.74,157.05 L367.35,157.81 L367.96,158.53 L368.56,159.22 L369.17,159.88 L369.78,160.50 L370.39,161.09 L370.99,161.65 L371.60,162.19 L372.21,162.69 L372.81,163.17 L373.42,163.62 L374.03,164.05 L374.63,164.45 L375.24,164.83 L375.85,165.19 L376.46,165.52 L377.06,165.84 L377.67,166.14 L378.28,166.42 L378.88,166.68 L379.49,166.92 L380.10,167.15 L380.70,167.37 L381.31,167.57 L381.92,167.76 L382.53,167.94 L383.13,168.10 L383.74,168.26 L384.35,168.40 L384.95,168.54 L385.56,168.66 L386.17,168.78 L386.77,168.89 L387.38,168.99 L387.99,169.09 L388.60,169.18 L389.20,169.26 L389.81,169.34 L390.42,169.41 L391.02,169.48 L391.63,169.54 L392.24,169.61 L392.85,169.66 L393.45,169.71 L394.06,169.77 L394.67,169.81 L395.27,169.86 L395.88,169.90 L396.49,169.94 L397.09,169.98 L397.70,170.01 L398.31,170.04 L398.92,170.08 L399.52,170.11 L400.13,170.14 L400.74,170.16 L401.34,170.19 L401.95,170.22 L402.56,170.24 L403.16,170.26 L403.77,170.29 L404.38,170.31 L404.99,170.33 L405.59,170.35 L406.20,170.37 L406.81,170.39 L407.41,170.40 L408.02,170.42 L408.63,170.44 L409.23,170.46 L409.84,170.47 L410.45,170.49 L411.06,170.50 L411.66,170.52 L412.27,170.53 L412.88,170.55 L413.48,170.56 L414.09,170.57 L414.70,170.59 L415.31,170.60 L415.91,170.61 L416.52,170.63 L417.13,170.64 L417.73,170.65 L418.34,170.66 L418.95,170.67 L419.55,170.68 L420.16,170.69 L420.77,170.71 L421.38,170.72 L421.98,170.73 L422.59,170.74 L423.20,170.75 L423.80,170.76 L424.41,170.77 L425.02,170.78 L425.62,170.79 L426.23,170.79 L426.84,170.80 L427.45,170.81 L428.05,170.82 L428.66,170.83 L429.27,170.84 L429.87,170.85 L430.48,170.85 L431.09,170.86 L431.69,170.87 L432.30,170.88 L432.91,170.89 L433.52,170.89 L434.12,170.90 L434.73,170.91 L435.34,170.92 L435.94,170.92 L436.55,170.93 L437.16,170.94 L437.76,170.94 L438.37,170.95 L438.98,170.96 L439.59,170.96 L440.19,170.97 L440.80,170.98" fill="none" stroke="#7570b3" stroke-width="2.0" stroke-linejoin="round" stroke-linecap="butt" stroke-opacity="1"/>
<path d="M259.30,169.94 L259.91,169.94 L260.51,169.95 L261.12,169.95 L261.73,169.96 L262.34,169.96 L262.94,169.96 L263.55,169.97 L264.16,169.97 L264.76,169.98 L265.37,169.98 L265.98,169.99 L266.58,169.99 L267.19,170.00 L267.80,170.00 L268.41,170.01 L269.01,170.01 L269.62,170.02 L270.23,170.02 L270.83,170.03 L271.44,170.03 L272.05,170.03 L272.65,170.04 L273.26,170.04 L273.87,170.05 L274.48,170.05 L275.08,170.06 L275.69,170.06 L276.30,170.06 L276.90,170.07 L277.51,170.07 L278.12,170.08 L278.72,170.08 L279.33,170.09 L279.94,170.09 L280.55,170.09 L281.15,170.10 L281.76,170.10 L282.37,170.10 L282.97,170.11 L283.58,170.11 L284.19,170.12 L284.79,170.12 L285.40,170.12 L286.01,170.13 L286.62,170.13 L287.22,170.13 L287.83,170.14 L288.44,170.14 L289.04,170.14 L289.65,170.15 L290.26,170.15 L290.87,170.15 L291.47,170.16 L292.08,170.16 L292.69,170.16 L293.29,170.17 L293.90,170.17 L294.51,170.17 L295.11,170.17 L295.72,170.18 L296.33,170.18 L296.94,170.18 L297.54,170.18 L298.15,170.19 L298.76,170.19 L299.36,170.19 L299.97,170.19 L300.58,170.19 L301.18,170.20 L301.79,170.20 L302.40,170.20 L303.01,170.20 L303.61,170.20 L304.22,170.20 L304.83,170.21 L305.43,170.21 L306.04,170.21 L306.65,170.21 L307.25,170.21 L307.86,170.21 L308.47,170.21 L309.08,170.21 L309.68,170.21 L310.29,170.21 L310.90,170.21 L311.50,170.21 L312.11,170.21 L312.72,170.21 L313.33,170.21 L313.93,170.21 L314.54,170.21 L315.15,170.20 L315.75,170.20 L316.36,170.20 L316.97,170.20 L317.57,170.20 L318.18,170.19 L318.79,170.19 L319.40,170.19 L320.00,170.18 L320.61,170.18 L321.22,170.17 L321.82,170.17 L322.43,170.17 L323.04,170.16 L323.64,170.15 L324.25,170.15 L324.86,170.14 L325.47,170.13 L326.07,170.13 L326.68,170.12 L327.29,170.11 L327.89,170.10 L328.50,170.09 L329.11,170.08 L329.71,170.06 L330.32,170.05 L330.93,170.03 L331.54,170.01 L332.14,169.99 L332.75,169.97 L333.36,169.94 L333.96,169.91 L334.57,169.87 L335.18,169.82 L335.78,169.76 L336.39,169.70 L337.00,169.62 L337.61,169.53 L338.21,169.41 L338.82,169.28 L339.43,169.12 L340.03,168.94 L340.64,168.72 L341.25,168.46 L341.86,168.16 L342.46,167.82 L343.07,167.41 L343.68,166.95 L344.28,166.43 L344.89,165.83 L345.50,165.16 L346.10,164.41 L346.71,163.57 L347.32,162.65 L347.93,161.63 L348.53,160.51 L349.14,159.30 L349.75,158.00 L350.35,156.60 L350.96,155.10 L351.57,153.51 L352.17,151.83 L352.78,150.07 L353.39,148.22 L354.00,146.29 L354.60,144.29 L355.21,142.21 L355.82,140.07 L356.42,137.86 L357.03,135.59 L357.64,133.26 L358.24,130.87 L358.85,128.41 L359.46,125.90 L360.07,123.32 L360.67,120.68 L361.28,117.97 L361.89,115.20 L362.49,112.38 L363.10,109.49 L363.71,106.55 L364.32,103.55 L364.92,100.52 L365.53,97.46 L366.14,94.39 L366.74,91.31 L367.35,88.25 L367.96,85.23 L368.56,82.27 L369.17,79.40 L369.78,76.64 L370.39,74.03 L370.99,71.58 L371.60,69.33 L372.21,67.31 L372.81,65.54 L373.42,64.05 L374.03,62.85 L374.63,61.98 L375.24,61.43 L375.85,61.23 L376.46,61.38 L377.06,61.87 L377.67,62.70 L378.28,63.86 L378.88,65.34 L379.49,67.10 L380.10,69.12 L380.70,71.38 L381.31,73.83 L381.92,76.45 L382.53,79.19 L383.13,82.02 L383.74,84.91 L384.35,87.84 L384.95,90.77 L385.56,93.69 L386.17,96.59 L386.77,99.47 L387.38,102.34 L387.99,105.19 L388.60,108.05 L389.20,110.94 L389.81,113.86 L390.42,116.83 L391.02,119.85 L391.63,122.93 L392.24,126.06 L392.85,129.23 L393.45,132.40 L394.06,135.56 L394.67,138.68 L395.27,141.71 L395.88,144.63 L396.49,147.41 L397.09,150.02 L397.70,152.44 L398.31,154.66 L398.92,156.68 L399.52,158.49 L400.13,160.10 L400.74,161.53 L401.34,162.77 L401.95,163.86 L402.56,164.80 L403.16,165.62 L403.77,166.32 L404.38,166.93 L404.99,167.45 L405.59,167.90 L406.20,168.29 L406.81,168.63 L407.41,168.92 L408.02,169.17 L408.63,169.39 L409.23,169.58 L409.84,169.75 L410.45,169.89 L411.06,170.02 L411.66,170.13 L412.27,170.23 L412.88,170.32 L413.48,170.40 L414.09,170.47 L414.70,170.53 L415.31,170.59 L415.91,170.64 L416.52,170.68 L417.13,170.73 L417.73,170.77 L418.34,170.80 L418.95,170.84 L419.55,170.87 L420.16,170.90 L420.77,170.92 L421.38,170.95 L421.98,170.98 L422.59,171.00 L423.20,171.02 L423.80,171.05 L424.41,171.07 L425.02,171.09 L425.62,171.11 L426.23,171.13 L426.84,171.15 L427.45,171.17 L428.05,171.19 L428.66,171.21 L429.27,171.22 L429.87,171.24 L430.48,171.26 L431.09,171.27 L431.69,171.29 L432.30,171.31 L432.91,171.32 L433.52,171.34 L434.12,171.35 L434.73,171.37 L435.34,171.38 L435.94,171.40 L436.55,171.41 L437.16,171.42 L437.76,171.44 L438.37,171.45 L438.98,171.46 L439.59,171.48 L440.19,171.49 L440.80,171.50" fill="none" stroke="#da338c" stroke-width="2.0" stroke-linejoin="round" stroke-linecap="butt" stroke-opacity="1"/>
<path d="M487.00,174.34 L487.61,174.30 L488.22,173.93 L488.84,173.72 L489.45,173.57 L490.06,173.72 L490.67,173.34 L491.28,173.25 L491.89,172.99 L492.51,172.90 L493.12,172.80 L493.73,172.70 L494.34,172.70 L494.95,172.62 L495.56,172.30 L496.18,172.32 L496.79,172.46 L497.40,173.36 L498.01,174.47 L498.62,175.18 L499.23,175.67 L499.85,175.89 L500.46,175.81 L501.07,175.38 L501.68,174.02 L502.29,172.27 L502.90,170.72 L503.52,169.58 L504.13,168.74 L504.74,168.37 L505.35,168.00 L505.96,167.93 L506.57,167.29 L507.19,167.27 L507.80,166.95 L508.41,166.85 L509.02,166.21 L509.63,165.83 L510.24,165.84 L510.86,166.62 L511.47,167.73 L512.08,168.42 L512.69,168.89 L513.30,168.93 L513.92,169.30 L514.53,169.51 L515.14,169.81 L515.75,169.69 L516.36,169.80 L516.97,169.82 L517.59,169.85 L518.20,169.37 L518.81,169.21 L519.42,169.26 L520.03,169.16 L520.64,168.84 L521.26,168.43 L521.87,168.52 L522.48,168.51 L523.09,167.97 L523.70,167.77 L524.31,167.34 L524.93,167.32 L525.54,167.17 L526.15,167.12 L526.76,167.16 L527.37,167.31 L527.98,167.16 L528.60,166.76 L529.21,165.66 L529.82,164.94 L530.43,164.11 L531.04,163.58 L531.65,162.74 L532.27,161.89 L532.88,160.89 L533.49,159.75 L534.10,158.37 L534.71,156.67 L535.32,154.95 L535.94,153.04 L536.55,151.33 L537.16,149.62 L537.77,148.30 L538.38,147.43 L538.99,146.27 L539.61,145.71 L540.22,144.54 L540.83,143.30 L541.44,141.17 L542.05,139.40 L542.67,137.49 L543.28,135.96 L543.89,134.53 L544.50,133.42 L545.11,132.05 L545.72,130.67 L546.34,129.06 L546.95,127.74 L547.56,126.00 L548.17,124.41 L548.78,122.77 L549.39,121.01 L550.01,119.88 L550.62,118.24 L551.23,117.48 L551.84,116.01 L552.45,115.36 L553.06,113.67 L553.68,112.00 L554.29,110.05 L554.90,108.46 L555.51,106.79 L556.12,105.73 L556.73,104.96 L557.35,105.33 L557.96,105.60 L558.57,106.30 L559.18,106.31 L559.79,106.13 L560.40,103.49 L561.02,101.36 L561.63,99.68 L562.24,98.20 L562.85,97.21 L563.46,97.02 L564.07,97.32 L564.69,97.96 L565.30,98.75 L565.91,100.25 L566.52,101.62 L567.13,102.74 L567.75,103.79 L568.36,105.14 L568.97,105.98 L569.58,105.32 L570.19,103.69 L570.80,101.71 L571.42,99.92 L572.03,98.74 L572.64,97.83 L573.25,96.89 L573.86,95.94 L574.47,95.03 L575.09,94.03 L575.70,93.00 L576.31,92.30 L576.92,91.77 L577.53,91.45 L578.14,90.86 L578.76,90.03 L579.37,88.93 L579.98,87.86 L580.59,87.06 L581.20,86.33 L581.81,86.02 L582.43,86.03 L583.04,86.34 L583.65,86.73 L584.26,87.45 L584.87,87.61 L585.48,87.80 L586.10,87.71 L586.71,88.07 L587.32,87.74 L587.93,87.82 L588.54,87.49 L589.15,87.43 L589.77,86.87 L590.38,86.75 L590.99,86.60 L591.60,86.41 L592.21,86.28 L592.83,85.88 L593.44,85.47 L594.05,85.15 L594.66,85.21 L595.27,85.45 L595.88,85.07 L596.50,85.08 L597.11,84.92 L597.72,85.31 L598.33,84.79 L598.94,84.18 L599.55,82.48 L600.17,80.85 L600.78,77.43 L601.39,74.84 L602.00,72.58 L602.61,70.21 L603.22,67.99 L603.84,65.45 L604.45,63.23 L605.06,61.97 L605.67,60.18 L606.28,58.00 L606.89,55.44 L607.51,52.73 L608.12,50.83 L608.73,48.10 L609.34,45.61 L609.95,43.55 L610.56,42.51 L611.18,42.30 L611.79,41.93 L612.40,42.68 L613.01,44.20 L613.62,45.85 L614.23,48.00 L614.85,49.94 L615.46,53.50 L616.07,56.15 L616.68,58.75 L617.29,60.94 L617.91,63.50 L618.52,66.28 L619.13,69.53 L619.74,72.75 L620.35,75.88 L620.96,79.52 L621.58,83.05 L622.19,87.00 L622.80,90.75 L623.41,95.11 L624.02,99.94 L624.63,104.93 L625.25,110.34 L625.86,115.70 L626.47,120.77 L627.08,125.41 L627.69,130.13 L628.30,134.58 L628.92,138.80 L629.53,142.80 L630.14,146.12 L630.75,149.64 L631.36,152.47 L631.97,155.20 L632.59,157.02 L633.20,158.99 L633.81,160.59 L634.42,162.52 L635.03,163.78 L635.64,164.87 L636.26,165.86 L636.87,166.86 L637.48,167.65 L638.09,168.38 L638.70,168.83 L639.31,169.47 L639.93,169.73 L640.54,169.88 L641.15,169.83 L641.76,169.57 L642.37,169.83 L642.98,170.31 L643.60,170.86 L644.21,171.91 L644.82,172.90 L645.43,174.48 L646.04,175.57 L646.66,176.56 L647.27,177.63 L647.88,177.98 L648.49,178.03 L649.10,178.07 L649.71,178.11 L650.33,178.35 L650.94,177.48 L651.55,177.64 L652.16,177.65 L652.77,178.07 L653.38,177.54 L654.00,176.88 L654.61,175.62 L655.22,174.75 L655.83,174.28 L656.44,175.10 L657.05,176.18 L657.67,177.16 L658.28,177.40 L658.89,177.46 L659.50,177.37 L660.11,177.28 L660.72,176.84 L661.34,176.04 L661.95,174.84 L662.56,173.26 L663.17,172.33 L663.78,171.14 L664.39,170.61 L665.01,170.19 L665.62,171.10 L666.23,171.93 L666.84,173.34 L667.45,175.02 L668.06,176.96 L668.68,177.87 L669.29,177.94 L669.90,177.70" fill="none" stroke="#1b9e77" stroke-width="5.2" stroke-linejoin="round" stroke-linecap="butt" stroke-opacity="1"/>
<path d="M487.00,173.29 L487.61,173.30 L488.22,173.31 L488.84,173.32 L489.45,173.33 L490.06,173.34 L490.67,173.35 L491.28,173.35 L491.89,173.36 L492.51,173.36 L493.12,173.36 L493.73,173.36 L494.34,173.36 L494.95,173.36 L495.56,173.36 L496.18,173.35 L496.79,173.35 L497.40,173.34 L498.01,173.33 L498.62,173.32 L499.23,173.30 L499.85,173.28 L500.46,173.26 L501.07,173.24 L501.68,173.21 L502.29,173.18 L502.90,173.15 L503.52,173.11 L504.13,173.07 L504.74,173.03 L505.35,172.98 L505.96,172.93 L506.57,172.87 L507.19,172.80 L507.80,172.73 L508.41,172.66 L509.02,172.58 L509.63,172.49 L510.24,172.39 L510.86,172.29 L511.47,172.18 L512.08,172.06 L512.69,171.93 L513.30,171.80 L513.92,171.65 L514.53,171.50 L515.14,171.33 L515.75,171.15 L516.36,170.97 L516.97,170.77 L517.59,170.56 L518.20,170.33 L518.81,170.09 L519.42,169.84 L520.03,169.57 L520.64,169.29 L521.26,168.99 L521.87,168.68 L522.48,168.35 L523.09,167.99 L523.70,167.62 L524.31,167.23 L524.93,166.82 L525.54,166.39 L526.15,165.93 L526.76,165.45 L527.37,164.94 L527.98,164.40 L528.60,163.84 L529.21,163.25 L529.82,162.63 L530.43,161.97 L531.04,161.29 L531.65,160.57 L532.27,159.81 L532.88,159.02 L533.49,158.19 L534.10,157.33 L534.71,156.43 L535.32,155.49 L535.94,154.52 L536.55,153.52 L537.16,152.48 L537.77,151.41 L538.38,150.32 L538.99,149.20 L539.61,148.05 L540.22,146.89 L540.83,145.71 L541.44,144.52 L542.05,143.33 L542.67,142.13 L543.28,140.94 L543.89,139.75 L544.50,138.57 L545.11,137.40 L545.72,136.25 L546.34,135.11 L546.95,133.98 L547.56,132.87 L548.17,131.76 L548.78,130.67 L549.39,129.58 L550.01,128.49 L550.62,127.41 L551.23,126.32 L551.84,125.23 L552.45,124.13 L553.06,123.03 L553.68,121.92 L554.29,120.80 L554.90,119.68 L555.51,118.55 L556.12,117.41 L556.73,116.26 L557.35,115.11 L557.96,113.96 L558.57,112.81 L559.18,111.65 L559.79,110.49 L560.40,109.34 L561.02,108.18 L561.63,107.01 L562.24,105.84 L562.85,104.67 L563.46,103.48 L564.07,102.28 L564.69,101.08 L565.30,99.87 L565.91,98.66 L566.52,97.48 L567.13,96.33 L567.75,95.24 L568.36,94.22 L568.97,93.30 L569.58,92.49 L570.19,91.90 L570.80,91.61 L571.42,91.35 L572.03,91.13 L572.64,90.94 L573.25,90.78 L573.86,90.65 L574.47,90.55 L575.09,90.48 L575.70,90.43 L576.31,90.40 L576.92,90.40 L577.53,90.45 L578.14,90.54 L578.76,90.67 L579.37,90.82 L579.98,91.01 L580.59,91.21 L581.20,91.43 L581.81,91.65 L582.43,91.87 L583.04,92.08 L583.65,92.31 L584.26,92.55 L584.87,92.80 L585.48,93.05 L586.10,93.30 L586.71,93.53 L587.32,93.75 L587.93,93.95 L588.54,94.12 L589.15,94.26 L589.77,94.35 L590.38,94.40 L590.99,94.39 L591.60,94.23 L592.21,93.93 L592.83,93.50 L593.44,92.97 L594.05,92.36 L594.66,91.69 L595.27,90.98 L595.88,90.21 L596.50,89.35 L597.11,88.39 L597.72,87.31 L598.33,86.11 L598.94,84.77 L599.55,83.25 L600.17,81.50 L600.78,79.57 L601.39,77.47 L602.00,75.25 L602.61,72.95 L603.22,70.61 L603.84,68.39 L604.45,66.32 L605.06,64.31 L605.67,62.26 L606.28,60.09 L606.89,57.73 L607.51,55.14 L608.12,52.56 L608.73,50.22 L609.34,48.21 L609.95,46.61 L610.56,45.50 L611.18,44.95 L611.79,44.98 L612.40,45.48 L613.01,46.46 L613.62,47.91 L614.23,49.83 L614.85,52.18 L615.46,54.92 L616.07,57.78 L616.68,60.39 L617.29,62.88 L617.91,65.42 L618.52,68.21 L619.13,71.40 L619.74,74.65 L620.35,77.80 L620.96,80.97 L621.58,84.30 L622.19,87.90 L622.80,91.94 L623.41,96.53 L624.02,101.50 L624.63,106.68 L625.25,111.86 L625.86,116.87 L626.47,121.50 L627.08,125.98 L627.69,130.45 L628.30,134.80 L628.92,138.94 L629.53,142.76 L630.14,146.17 L630.75,149.07 L631.36,151.71 L631.97,154.18 L632.59,156.50 L633.20,158.66 L633.81,160.66 L634.42,162.51 L635.03,164.19 L635.64,165.71 L636.26,167.08 L636.87,168.29 L637.48,169.35 L638.09,170.28 L638.70,171.11 L639.31,171.87 L639.93,172.55 L640.54,173.15 L641.15,173.68 L641.76,174.14 L642.37,174.53 L642.98,174.85 L643.60,175.10 L644.21,175.28 L644.82,175.41 L645.43,175.68 L646.04,175.93 L646.66,176.14 L647.27,176.33 L647.88,176.49 L648.49,176.64 L649.10,176.77 L649.71,176.89 L650.33,177.00 L650.94,177.10 L651.55,177.19 L652.16,177.28 L652.77,177.36 L653.38,177.44 L654.00,177.51 L654.61,177.58 L655.22,177.65 L655.83,177.71 L656.44,177.76 L657.05,177.82 L657.67,177.87 L658.28,177.92 L658.89,177.96 L659.50,178.01 L660.11,178.05 L660.72,178.08 L661.34,178.12 L661.95,178.16 L662.56,178.19 L663.17,178.22 L663.78,178.26 L664.39,178.29 L665.01,178.31 L665.62,178.34 L666.23,178.37 L666.84,178.40 L667.45,178.42 L668.06,178.45 L668.68,178.47 L669.29,178.50 L669.90,178.52" fill="none" stroke="#d95f02" stroke-width="2.4" stroke-linejoin="round" stroke-linecap="butt" stroke-opacity="1"/>
<path d="M487.00,173.29 L487.61,173.30 L488.22,173.31 L488.84,173.32 L489.45,173.33 L490.06,173.34 L490.67,173.35 L491.28,173.35 L491.89,173.36 L492.51,173.36 L493.12,173.36 L493.73,173.36 L494.34,173.36 L494.95,173.36 L495.56,173.36 L496.18,173.35 L496.79,173.35 L497.40,173.34 L498.01,173.33 L498.62,173.32 L499.23,173.30 L499.85,173.28 L500.46,173.26 L501.07,173.24 L501.68,173.21 L502.29,173.18 L502.90,173.15 L503.52,173.11 L504.13,173.07 L504.74,173.03 L505.35,172.98 L505.96,172.93 L506.57,172.87 L507.19,172.80 L507.80,172.73 L508.41,172.66 L509.02,172.58 L509.63,172.49 L510.24,172.39 L510.86,172.29 L511.47,172.18 L512.08,172.06 L512.69,171.93 L513.30,171.80 L513.92,171.65 L514.53,171.50 L515.14,171.33 L515.75,171.15 L516.36,170.97 L516.97,170.77 L517.59,170.56 L518.20,170.33 L518.81,170.09 L519.42,169.84 L520.03,169.57 L520.64,169.29 L521.26,168.99 L521.87,168.68 L522.48,168.35 L523.09,167.99 L523.70,167.62 L524.31,167.23 L524.93,166.82 L525.54,166.39 L526.15,165.93 L526.76,165.45 L527.37,164.94 L527.98,164.40 L528.60,163.84 L529.21,163.25 L529.82,162.63 L530.43,161.97 L531.04,161.29 L531.65,160.57 L532.27,159.81 L532.88,159.02 L533.49,158.19 L534.10,157.33 L534.71,156.43 L535.32,155.49 L535.94,154.52 L536.55,153.52 L537.16,152.48 L537.77,151.41 L538.38,150.32 L538.99,149.20 L539.61,148.05 L540.22,146.89 L540.83,145.71 L541.44,144.52 L542.05,143.33 L542.67,142.13 L543.28,140.94 L543.89,139.75 L544.50,138.57 L545.11,137.40 L545.72,136.25 L546.34,135.11 L546.95,133.98 L547.56,132.87 L548.17,131.76 L548.78,130.67 L549.39,129.58 L550.01,128.49 L550.62,127.41 L551.23,126.32 L551.84,125.23 L552.45,124.13 L553.06,123.03 L553.68,121.92 L554.29,120.80 L554.90,119.68 L555.51,118.55 L556.12,117.41 L556.73,116.26 L557.35,115.12 L557.96,113.97 L558.57,112.82 L559.18,111.67 L559.79,110.53 L560.40,109.40 L561.02,108.27 L561.63,107.16 L562.24,106.07 L562.85,104.99 L563.46,103.93 L564.07,102.90 L564.69,101.89 L565.30,100.91 L565.91,99.97 L566.52,99.06 L567.13,98.18 L567.75,97.34 L568.36,96.54 L568.97,95.78 L569.58,95.07 L570.19,94.39 L570.80,93.77 L571.42,93.19 L572.03,92.67 L572.64,92.19 L573.25,91.76 L573.86,91.39 L574.47,91.07 L575.09,90.80 L575.70,90.59 L576.31,90.43 L576.92,90.33 L577.53,90.28 L578.14,90.29 L578.76,90.35 L579.37,90.47 L579.98,90.64 L580.59,90.87 L581.20,91.16 L581.81,91.49 L582.43,91.88 L583.04,92.33 L583.65,92.82 L584.26,93.37 L584.87,93.97 L585.48,94.61 L586.10,95.31 L586.71,96.05 L587.32,96.83 L587.93,97.66 L588.54,98.53 L589.15,99.44 L589.77,100.39 L590.38,101.38 L590.99,102.40 L591.60,103.46 L592.21,104.55 L592.83,105.67 L593.44,106.82 L594.05,107.99 L594.66,109.19 L595.27,110.41 L595.88,111.65 L596.50,112.91 L597.11,114.19 L597.72,115.48 L598.33,116.78 L598.94,118.09 L599.55,119.41 L600.17,120.74 L600.78,122.07 L601.39,123.40 L602.00,124.74 L602.61,126.07 L603.22,127.39 L603.84,128.71 L604.45,130.02 L605.06,131.33 L605.67,132.61 L606.28,133.89 L606.89,135.15 L607.51,136.39 L608.12,137.62 L608.73,138.82 L609.34,140.01 L609.95,141.17 L610.56,142.32 L611.18,143.44 L611.79,144.54 L612.40,145.62 L613.01,146.68 L613.62,147.73 L614.23,148.75 L614.85,149.76 L615.46,150.75 L616.07,151.73 L616.68,152.69 L617.29,153.63 L617.91,154.57 L618.52,155.48 L619.13,156.39 L619.74,157.28 L620.35,158.15 L620.96,159.01 L621.58,159.85 L622.19,160.67 L622.80,161.47 L623.41,162.25 L624.02,163.01 L624.63,163.75 L625.25,164.46 L625.86,165.14 L626.47,165.80 L627.08,166.44 L627.69,167.05 L628.30,167.63 L628.92,168.19 L629.53,168.72 L630.14,169.23 L630.75,169.71 L631.36,170.17 L631.97,170.61 L632.59,171.02 L633.20,171.42 L633.81,171.79 L634.42,172.15 L635.03,172.49 L635.64,172.81 L636.26,173.12 L636.87,173.41 L637.48,173.69 L638.09,173.95 L638.70,174.20 L639.31,174.44 L639.93,174.66 L640.54,174.88 L641.15,175.08 L641.76,175.27 L642.37,175.45 L642.98,175.63 L643.60,175.79 L644.21,175.95 L644.82,176.09 L645.43,176.23 L646.04,176.36 L646.66,176.49 L647.27,176.61 L647.88,176.72 L648.49,176.82 L649.10,176.92 L649.71,177.02 L650.33,177.11 L650.94,177.19 L651.55,177.27 L652.16,177.35 L652.77,177.42 L653.38,177.49 L654.00,177.55 L654.61,177.62 L655.22,177.67 L655.83,177.73 L656.44,177.78 L657.05,177.83 L657.67,177.88 L658.28,177.93 L658.89,177.97 L659.50,178.01 L660.11,178.05 L660.72,178.09 L661.34,178.13 L661.95,178.16 L662.56,178.19 L663.17,178.23 L663.78,178.26 L664.39,178.29 L665.01,178.32 L665.62,178.34 L666.23,178.37 L666.84,178.40 L667.45,178.42 L668.06,178.45 L668.68,178.47 L669.29,178.50 L669.90,178.52" fill="none" stroke="#7570b3" stroke-width="2.0" stroke-linejoin="round" stroke-linecap="butt" stroke-opacity="1"/>
<path d="M487.00,172.68 L487.61,172.70 L488.22,172.72 L488.84,172.74 L489.45,172.75 L490.06,172.77 L490.67,172.79 L491.28,172.81 L491.89,172.83 L492.51,172.84 L493.12,172.86 L493.73,172.88 L494.34,172.90 L494.95,172.92 L495.56,172.93 L496.18,172.95 L496.79,172.97 L497.40,172.99 L498.01,173.01 L498.62,173.02 L499.23,173.04 L499.85,173.06 L500.46,173.08 L501.07,173.09 L501.68,173.11 L502.29,173.13 L502.90,173.15 L503.52,173.17 L504.13,173.18 L504.74,173.20 L505.35,173.22 L505.96,173.24 L506.57,173.26 L507.19,173.27 L507.80,173.29 L508.41,173.31 L509.02,173.33 L509.63,173.35 L510.24,173.36 L510.86,173.38 L511.47,173.40 L512.08,173.42 L512.69,173.43 L513.30,173.45 L513.92,173.47 L514.53,173.49 L515.14,173.51 L515.75,173.52 L516.36,173.54 L516.97,173.56 L517.59,173.58 L518.20,173.60 L518.81,173.61 L519.42,173.63 L520.03,173.65 L520.64,173.67 L521.26,173.69 L521.87,173.70 L522.48,173.72 L523.09,173.74 L523.70,173.76 L524.31,173.78 L524.93,173.79 L525.54,173.81 L526.15,173.83 L526.76,173.85 L527.37,173.86 L527.98,173.88 L528.60,173.90 L529.21,173.92 L529.82,173.94 L530.43,173.95 L531.04,173.97 L531.65,173.99 L532.27,174.01 L532.88,174.03 L533.49,174.04 L534.10,174.06 L534.71,174.08 L535.32,174.10 L535.94,174.12 L536.55,174.13 L537.16,174.15 L537.77,174.17 L538.38,174.19 L538.99,174.21 L539.61,174.22 L540.22,174.24 L540.83,174.26 L541.44,174.28 L542.05,174.29 L542.67,174.31 L543.28,174.33 L543.89,174.35 L544.50,174.37 L545.11,174.38 L545.72,174.40 L546.34,174.42 L546.95,174.44 L547.56,174.46 L548.17,174.47 L548.78,174.49 L549.39,174.51 L550.01,174.53 L550.62,174.55 L551.23,174.56 L551.84,174.58 L552.45,174.60 L553.06,174.62 L553.68,174.63 L554.29,174.65 L554.90,174.67 L555.51,174.69 L556.12,174.71 L556.73,174.72 L557.35,174.74 L557.96,174.76 L558.57,174.78 L559.18,174.80 L559.79,174.81 L560.40,174.83 L561.02,174.85 L561.63,174.87 L562.24,174.88 L562.85,174.90 L563.46,174.92 L564.07,174.94 L564.69,174.95 L565.30,174.97 L565.91,174.99 L566.52,175.00 L567.13,175.02 L567.75,175.04 L568.36,175.05 L568.97,175.06 L569.58,175.08 L570.19,175.09 L570.80,175.10 L571.42,175.11 L572.03,175.12 L572.64,175.12 L573.25,175.12 L573.86,175.12 L574.47,175.11 L575.09,175.10 L575.70,175.09 L576.31,175.06 L576.92,175.03 L577.53,174.99 L578.14,174.94 L578.76,174.88 L579.37,174.80 L579.98,174.71 L580.59,174.59 L581.20,174.46 L581.81,174.30 L582.43,174.12 L583.04,173.90 L583.65,173.65 L584.26,173.36 L584.87,173.03 L585.48,172.65 L586.10,172.23 L586.71,171.74 L587.32,171.20 L587.93,170.59 L588.54,169.91 L589.15,169.15 L589.77,168.32 L590.38,167.40 L590.99,166.39 L591.60,165.28 L592.21,164.08 L592.83,162.77 L593.44,161.37 L594.05,159.85 L594.66,158.22 L595.27,156.48 L595.88,154.63 L596.50,152.65 L597.11,150.56 L597.72,148.34 L598.33,146.00 L598.94,143.52 L599.55,140.90 L600.17,138.14 L600.78,135.22 L601.39,132.14 L602.00,128.90 L602.61,125.49 L603.22,121.91 L603.84,118.17 L604.45,114.29 L605.06,110.29 L605.67,106.22 L606.28,102.12 L606.89,98.05 L607.51,94.09 L608.12,90.33 L608.73,86.84 L609.34,83.72 L609.95,81.05 L610.56,78.92 L611.18,77.37 L611.79,76.47 L612.40,76.22 L613.01,76.64 L613.62,77.70 L614.23,79.36 L614.85,81.56 L615.46,84.24 L616.07,87.30 L616.68,90.67 L617.29,94.26 L617.91,97.99 L618.52,101.79 L619.13,105.60 L619.74,109.38 L620.35,113.08 L620.96,116.68 L621.58,120.17 L622.19,123.54 L622.80,126.78 L623.41,129.90 L624.02,132.89 L624.63,135.77 L625.25,138.53 L625.86,141.18 L626.47,143.73 L627.08,146.17 L627.69,148.50 L628.30,150.73 L628.92,152.86 L629.53,154.88 L630.14,156.79 L630.75,158.59 L631.36,160.29 L631.97,161.88 L632.59,163.36 L633.20,164.74 L633.81,166.02 L634.42,167.20 L635.03,168.29 L635.64,169.28 L636.26,170.19 L636.87,171.01 L637.48,171.76 L638.09,172.43 L638.70,173.04 L639.31,173.58 L639.93,174.07 L640.54,174.50 L641.15,174.89 L641.76,175.23 L642.37,175.53 L642.98,175.79 L643.60,176.03 L644.21,176.23 L644.82,176.41 L645.43,176.57 L646.04,176.71 L646.66,176.83 L647.27,176.93 L647.88,177.02 L648.49,177.10 L649.10,177.18 L649.71,177.24 L650.33,177.29 L650.94,177.34 L651.55,177.39 L652.16,177.42 L652.77,177.46 L653.38,177.49 L654.00,177.52 L654.61,177.55 L655.22,177.58 L655.83,177.60 L656.44,177.62 L657.05,177.65 L657.67,177.67 L658.28,177.69 L658.89,177.71 L659.50,177.73 L660.11,177.75 L660.72,177.77 L661.34,177.78 L661.95,177.80 L662.56,177.82 L663.17,177.84 L663.78,177.86 L664.39,177.88 L665.01,177.89 L665.62,177.91 L666.23,177.93 L666.84,177.95 L667.45,177.97 L668.06,177.98 L668.68,178.00 L669.29,178.02 L669.90,178.04" fill="none" stroke="#da338c" stroke-width="2.0" stroke-linejoin="round" stroke-linecap="butt" stroke-opacity="1"/>
<path d="M36.80,394.46 L37.57,394.58 L38.35,394.69 L39.12,394.69 L39.90,394.67 L40.67,394.81 L41.45,394.98 L42.22,394.80 L43.00,394.69 L43.77,394.69 L44.55,394.69 L45.32,394.60 L46.10,394.56 L46.87,394.76 L47.65,394.70 L48.42,394.32 L49.20,393.98 L49.97,393.95 L50.75,394.15 L51.52,394.29 L52.30,394.30 L53.07,394.16 L53.85,394.01 L54.62,393.80 L55.40,393.72 L56.17,393.47 L56.95,393.63 L57.72,393.47 L58.50,393.16 L59.27,392.46 L60.05,391.94 L60.82,391.41 L61.60,390.93 L62.37,390.34 L63.15,389.98 L63.92,389.38 L64.70,388.72 L65.47,387.83 L66.25,387.09 L67.02,386.47 L67.79,385.83 L68.57,385.24 L69.34,384.24 L70.12,383.27 L70.89,381.93 L71.67,380.56 L72.44,378.63 L73.22,376.66 L73.99,374.74 L74.77,372.90 L75.54,370.71 L76.32,368.21 L77.09,365.40 L77.87,362.60 L78.64,359.63 L79.42,356.89 L80.19,354.05 L80.97,351.21 L81.74,348.24 L82.52,345.53 L83.29,342.98 L84.07,340.50 L84.84,338.41 L85.62,336.44 L86.39,334.87 L87.17,333.50 L87.94,332.58 L88.72,331.95 L89.49,331.61 L90.27,331.55 L91.04,332.02 L91.82,332.63 L92.59,334.11 L93.37,335.57 L94.14,337.74 L94.92,339.68 L95.69,342.14 L96.47,344.61 L97.24,347.43 L98.02,350.40 L98.79,353.47 L99.56,356.38 L100.34,359.30 L101.11,361.91 L101.89,364.72 L102.66,367.32 L103.44,369.89 L104.21,372.22 L104.99,374.46 L105.76,376.62 L106.54,378.59 L107.31,380.28 L108.09,381.75 L108.86,383.17 L109.64,384.26 L110.41,385.33 L111.19,386.33 L111.96,386.98 L112.74,387.58 L113.51,387.94 L114.29,388.36 L115.06,388.87 L115.84,388.58 L116.61,388.81 L117.39,388.49 L118.16,388.49 L118.94,387.85 L119.71,387.13 L120.49,386.21 L121.26,385.43 L122.04,384.26 L122.81,383.14 L123.59,381.83 L124.36,380.33 L125.14,378.65 L125.91,376.73 L126.69,374.68 L127.46,372.63 L128.24,370.25 L129.01,367.66 L129.78,364.77 L130.56,361.72 L131.33,358.69 L132.11,355.42 L132.88,352.01 L133.66,348.61 L134.43,344.86 L135.21,341.27 L135.98,337.36 L136.76,333.68 L137.53,329.70 L138.31,325.89 L139.08,322.02 L139.86,318.62 L140.63,315.47 L141.41,312.76 L142.18,310.12 L142.96,307.73 L143.73,305.60 L144.51,304.11 L145.28,303.20 L146.06,303.03 L146.83,303.31 L147.61,304.00 L148.38,305.10 L149.16,306.96 L149.93,309.34 L150.71,312.03 L151.48,315.01 L152.26,318.22 L153.03,321.74 L153.81,325.28 L154.58,328.94 L155.36,332.96 L156.13,336.82 L156.91,340.89 L157.68,344.61 L158.46,348.62 L159.23,352.38 L160.01,356.04 L160.78,359.25 L161.55,362.54 L162.33,365.51 L163.10,368.66 L163.88,371.48 L164.65,374.21 L165.43,376.79 L166.20,379.04 L166.98,381.15 L167.75,382.84 L168.53,384.48 L169.30,386.08 L170.08,387.60 L170.85,388.77 L171.63,389.93 L172.40,390.91 L173.18,392.07 L173.95,392.84 L174.73,393.41 L175.50,393.86 L176.28,394.59 L177.05,395.27 L177.83,395.72 L178.60,396.00 L179.38,396.32 L180.15,396.63 L180.93,396.67 L181.70,396.83 L182.48,397.30 L183.25,397.76 L184.03,398.11 L184.80,398.31 L185.58,398.56 L186.35,398.54 L187.13,398.64 L187.90,398.65 L188.68,398.88 L189.45,398.99 L190.23,399.18 L191.00,399.43" fill="none" stroke="#1b9e77" stroke-width="6.0" stroke-linejoin="round" stroke-linecap="butt" stroke-opacity="1"/>
<path d="M36.80,396.29 L37.57,396.30 L38.35,396.30 L39.12,396.30 L39.90,396.30 L40.67,396.30 L41.45,396.29 L42.22,396.29 L43.00,396.28 L43.77,396.27 L44.55,396.26 L45.32,396.24 L46.10,396.22 L46.87,396.20 L47.65,396.17 L48.42,396.14 L49.20,396.10 L49.97,396.06 L50.75,396.01 L51.52,395.94 L52.30,395.87 L53.07,395.78 L53.85,395.68 L54.62,395.55 L55.40,395.41 L56.17,395.23 L56.95,395.03 L57.72,394.78 L58.50,394.49 L59.27,394.16 L60.05,393.77 L60.82,393.32 L61.60,392.81 L62.37,392.25 L63.15,391.64 L63.92,391.01 L64.70,390.35 L65.47,389.69 L66.25,389.02 L67.02,388.32 L67.79,387.58 L68.57,386.75 L69.34,385.81 L70.12,384.72 L70.89,383.46 L71.67,382.03 L72.44,380.40 L73.22,378.59 L73.99,376.59 L74.77,374.42 L75.54,372.07 L76.32,369.58 L77.09,366.94 L77.87,364.20 L78.64,361.37 L79.42,358.49 L80.19,355.59 L80.97,352.70 L81.74,349.87 L82.52,347.13 L83.29,344.52 L84.07,342.10 L84.84,339.88 L85.62,337.93 L86.39,336.27 L87.17,334.93 L87.94,333.93 L88.72,333.31 L89.49,333.07 L90.27,333.21 L91.04,333.73 L91.82,334.63 L92.59,335.88 L93.37,337.46 L94.14,339.34 L94.92,341.49 L95.69,343.86 L96.47,346.42 L97.24,349.12 L98.02,351.93 L98.79,354.80 L99.56,357.71 L100.34,360.60 L101.11,363.45 L101.89,366.22 L102.66,368.90 L103.44,371.45 L104.21,373.86 L104.99,376.12 L105.76,378.22 L106.54,380.13 L107.31,381.88 L108.09,383.44 L108.86,384.82 L109.64,386.03 L110.41,387.07 L111.19,387.94 L111.96,388.66 L112.74,389.22 L113.51,389.63 L114.29,389.90 L115.06,390.04 L115.84,390.04 L116.61,389.91 L117.39,389.66 L118.16,389.27 L118.94,388.76 L119.71,388.11 L120.49,387.33 L121.26,386.41 L122.04,385.34 L122.81,384.13 L123.59,382.75 L124.36,381.21 L125.14,379.51 L125.91,377.62 L126.69,375.56 L127.46,373.31 L128.24,370.88 L129.01,368.26 L129.78,365.46 L130.56,362.47 L131.33,359.32 L132.11,356.00 L132.88,352.53 L133.66,348.93 L134.43,345.22 L135.21,341.43 L135.98,337.57 L136.76,333.69 L137.53,329.83 L138.31,326.02 L139.08,322.31 L139.86,318.76 L140.63,315.42 L141.41,312.35 L142.18,309.60 L142.96,307.23 L143.73,305.30 L144.51,303.86 L145.28,302.93 L146.06,302.56 L146.83,302.74 L147.61,303.47 L148.38,304.74 L149.16,306.52 L149.93,308.75 L150.71,311.39 L151.48,314.38 L152.26,317.67 L153.03,321.19 L153.81,324.89 L154.58,328.71 L155.36,332.62 L156.13,336.55 L156.91,340.48 L157.68,344.36 L158.46,348.17 L159.23,351.88 L160.01,355.47 L160.78,358.92 L161.55,362.21 L162.33,365.34 L163.10,368.29 L163.88,371.06 L164.65,373.65 L165.43,376.05 L166.20,378.28 L166.98,380.33 L167.75,382.21 L168.53,383.93 L169.30,385.49 L170.08,386.91 L170.85,388.19 L171.63,389.34 L172.40,390.38 L173.18,391.31 L173.95,392.15 L174.73,392.89 L175.50,393.56 L176.28,394.15 L177.05,394.68 L177.83,395.16 L178.60,395.59 L179.38,395.97 L180.15,396.31 L180.93,396.62 L181.70,396.90 L182.48,397.16 L183.25,397.39 L184.03,397.61 L184.80,397.81 L185.58,397.99 L186.35,398.16 L187.13,398.32 L187.90,398.47 L188.68,398.61 L189.45,398.75 L190.23,398.88 L191.00,399.00" fill="none" stroke="#7272ae" stroke-width="2.6" stroke-linejoin="round" stroke-linecap="butt" stroke-opacity="1"/>
<path d="M259.60,380.43 L260.21,380.44 L260.83,380.41 L261.44,380.03 L262.05,379.88 L262.67,379.59 L263.28,379.69 L263.89,379.47 L264.51,379.73 L265.12,379.60 L265.73,379.94 L266.35,379.83 L266.96,380.01 L267.57,379.61 L268.19,379.76 L268.80,379.53 L269.41,379.79 L270.03,379.71 L270.64,379.99 L271.25,379.60 L271.87,379.71 L272.48,379.29 L273.09,380.01 L273.71,379.63 L274.32,379.81 L274.93,379.32 L275.55,380.13 L276.16,380.16 L276.77,380.60 L277.39,380.22 L278.00,380.17 L278.61,380.10 L279.23,380.36 L279.84,380.67 L280.45,380.89 L281.07,380.63 L281.68,380.59 L282.29,380.24 L282.91,380.30 L283.52,380.60 L284.14,380.68 L284.75,380.59 L285.36,380.04 L285.98,379.81 L286.59,380.05 L287.20,379.95 L287.82,379.94 L288.43,379.65 L289.04,379.80 L289.66,380.38 L290.27,379.91 L290.88,380.05 L291.50,379.76 L292.11,379.95 L292.72,379.67 L293.34,379.52 L293.95,379.95 L294.56,379.78 L295.18,379.26 L295.79,379.00 L296.40,379.38 L297.02,379.53 L297.63,378.80 L298.24,378.71 L298.86,378.67 L299.47,379.28 L300.08,378.94 L300.70,378.86 L301.31,378.50 L301.92,378.75 L302.54,379.06 L303.15,378.66 L303.76,378.11 L304.38,378.08 L304.99,378.33 L305.60,378.13 L306.22,377.64 L306.83,377.56 L307.44,377.65 L308.06,377.39 L308.67,377.16 L309.28,376.90 L309.90,376.88 L310.51,376.59 L311.12,376.42 L311.74,376.14 L312.35,376.36 L312.96,376.30 L313.58,376.11 L314.19,375.76 L314.80,375.58 L315.42,375.62 L316.03,375.41 L316.64,375.48 L317.26,375.31 L317.87,374.98 L318.48,374.31 L319.10,373.99 L319.71,373.86 L320.32,373.66 L320.94,372.92 L321.55,372.19 L322.16,372.02 L322.78,372.22 L323.39,372.50 L324.00,371.94 L324.62,371.77 L325.23,371.30 L325.84,371.44 L326.46,371.15 L327.07,370.95 L327.68,370.61 L328.30,369.99 L328.91,369.86 L329.53,369.52 L330.14,369.93 L330.75,370.02 L331.37,370.45 L331.98,370.32 L332.59,370.06 L333.21,369.83 L333.82,369.56 L334.43,369.70 L335.05,369.57 L335.66,369.32 L336.27,369.06 L336.89,368.82 L337.50,368.73 L338.11,368.64 L338.73,368.66 L339.34,368.28 L339.95,367.63 L340.57,366.38 L341.18,365.92 L341.79,365.34 L342.41,364.75 L343.02,364.19 L343.63,363.74 L344.25,363.33 L344.86,362.48 L345.47,361.42 L346.09,360.91 L346.70,359.83 L347.31,359.06 L347.93,358.33 L348.54,357.65 L349.15,356.68 L349.77,354.81 L350.38,353.04 L350.99,351.33 L351.61,349.75 L352.22,348.01 L352.83,346.25 L353.45,344.51 L354.06,342.96 L354.67,340.57 L355.29,338.07 L355.90,335.45 L356.51,333.89 L357.13,332.10 L357.74,330.46 L358.35,327.98 L358.97,325.56 L359.58,323.40 L360.19,321.60 L360.81,319.71 L361.42,317.81 L362.03,316.08 L362.65,314.49 L363.26,312.52 L363.87,310.30 L364.49,308.59 L365.10,307.29 L365.71,306.21 L366.33,304.81 L366.94,303.36 L367.55,302.38 L368.17,301.39 L368.78,300.61 L369.39,299.46 L370.01,298.67 L370.62,298.15 L371.23,297.79 L371.85,297.48 L372.46,297.37 L373.07,297.99 L373.69,298.63 L374.30,299.54 L374.92,300.00 L375.53,300.82 L376.14,301.34 L376.76,302.53 L377.37,304.30 L377.98,306.21 L378.60,308.16 L379.21,309.82 L379.82,311.66 L380.44,313.46 L381.05,315.39 L381.66,317.63 L382.28,319.90 L382.89,322.15 L383.50,324.24 L384.12,326.19 L384.73,328.25 L385.34,330.23 L385.96,332.78 L386.57,334.59 L387.18,336.90 L387.80,339.31 L388.41,341.77 L389.02,343.65 L389.64,345.21 L390.25,347.50 L390.86,349.61 L391.48,351.59 L392.09,353.14 L392.70,354.80 L393.32,356.93 L393.93,358.46 L394.54,359.89 L395.16,360.53 L395.77,361.89 L396.38,363.29 L397.00,364.70 L397.61,365.74 L398.22,366.40 L398.84,367.32 L399.45,368.16 L400.06,369.26 L400.68,369.68 L401.29,370.40 L401.90,371.05 L402.52,372.03 L403.13,372.50 L403.74,373.27 L404.36,373.86 L404.97,374.43 L405.58,374.76 L406.20,374.99 L406.81,375.78 L407.42,375.75 L408.04,376.16 L408.65,375.93 L409.26,376.60 L409.88,377.05 L410.49,377.46 L411.10,377.76 L411.72,377.60 L412.33,378.27 L412.94,378.57 L413.56,379.11 L414.17,378.59 L414.78,378.30 L415.40,378.41 L416.01,378.74 L416.62,379.00 L417.24,378.93 L417.85,378.80 L418.46,379.07 L419.08,379.06 L419.69,379.44 L420.31,379.19 L420.92,379.32 L421.53,379.12 L422.15,379.49 L422.76,379.66 L423.37,380.03 L423.99,380.01 L424.60,379.98 L425.21,379.34 L425.83,379.50 L426.44,379.42 L427.05,380.09 L427.67,379.98 L428.28,379.87 L428.89,379.85 L429.51,380.15 L430.12,380.83 L430.73,380.92 L431.35,380.70 L431.96,380.80 L432.57,380.83 L433.19,381.49 L433.80,381.28 L434.41,381.34 L435.03,381.15 L435.64,381.51 L436.25,381.41 L436.87,381.52 L437.48,381.12 L438.09,381.69 L438.71,381.28 L439.32,381.02 L439.93,380.82 L440.55,381.08 L441.16,381.84 L441.77,382.13 L442.39,382.14 L443.00,381.80" fill="none" stroke="#1b9e77" stroke-width="5.4" stroke-linejoin="round" stroke-linecap="butt" stroke-opacity="1"/>
<path d="M259.60,380.50 L260.21,380.49 L260.83,380.48 L261.44,380.47 L262.05,380.46 L262.67,380.45 L263.28,380.44 L263.89,380.43 L264.51,380.42 L265.12,380.41 L265.73,380.40 L266.35,380.39 L266.96,380.38 L267.57,380.37 L268.19,380.36 L268.80,380.35 L269.41,380.33 L270.03,380.32 L270.64,380.31 L271.25,380.29 L271.87,380.28 L272.48,380.26 L273.09,380.24 L273.71,380.23 L274.32,380.21 L274.93,380.19 L275.55,380.17 L276.16,380.15 L276.77,380.13 L277.39,380.11 L278.00,380.08 L278.61,380.06 L279.23,380.03 L279.84,380.01 L280.45,379.98 L281.07,379.95 L281.68,379.93 L282.29,379.90 L282.91,379.88 L283.52,379.86 L284.14,379.83 L284.75,379.81 L285.36,379.79 L285.98,379.77 L286.59,379.74 L287.20,379.72 L287.82,379.70 L288.43,379.68 L289.04,379.66 L289.66,379.64 L290.27,379.62 L290.88,379.60 L291.50,379.58 L292.11,379.56 L292.72,379.54 L293.34,379.52 L293.95,379.50 L294.56,379.47 L295.18,379.45 L295.79,379.42 L296.40,379.39 L297.02,379.37 L297.63,379.34 L298.24,379.30 L298.86,379.27 L299.47,379.23 L300.08,379.19 L300.70,379.14 L301.31,379.10 L301.92,379.04 L302.54,378.99 L303.15,378.93 L303.76,378.86 L304.38,378.79 L304.99,378.72 L305.60,378.64 L306.22,378.55 L306.83,378.46 L307.44,378.36 L308.06,378.25 L308.67,378.13 L309.28,378.01 L309.90,377.88 L310.51,377.74 L311.12,377.60 L311.74,377.45 L312.35,377.29 L312.96,377.12 L313.58,376.94 L314.19,376.76 L314.80,376.57 L315.42,376.37 L316.03,376.16 L316.64,375.95 L317.26,375.72 L317.87,375.48 L318.48,375.24 L319.10,374.99 L319.71,374.73 L320.32,374.46 L320.94,374.19 L321.55,373.92 L322.16,373.64 L322.78,373.35 L323.39,373.07 L324.00,372.79 L324.62,372.51 L325.23,372.23 L325.84,371.97 L326.46,371.71 L327.07,371.47 L327.68,371.24 L328.30,371.03 L328.91,370.84 L329.53,370.66 L330.14,370.51 L330.75,370.37 L331.37,370.25 L331.98,370.11 L332.59,369.97 L333.21,369.82 L333.82,369.67 L334.43,369.52 L335.05,369.36 L335.66,369.20 L336.27,369.04 L336.89,368.88 L337.50,368.72 L338.11,368.53 L338.73,368.31 L339.34,368.06 L339.95,367.77 L340.57,367.43 L341.18,367.05 L341.79,366.61 L342.41,366.12 L343.02,365.57 L343.63,364.96 L344.25,364.33 L344.86,363.66 L345.47,362.95 L346.09,362.19 L346.70,361.39 L347.31,360.53 L347.93,359.61 L348.54,358.62 L349.15,357.57 L349.77,356.45 L350.38,355.05 L350.99,353.43 L351.61,351.71 L352.22,349.90 L352.83,348.01 L353.45,346.04 L354.06,344.01 L354.67,341.92 L355.29,339.78 L355.90,337.61 L356.51,335.41 L357.13,333.19 L357.74,330.97 L358.35,328.74 L358.97,326.53 L359.58,324.33 L360.19,322.16 L360.81,320.03 L361.42,317.93 L362.03,315.89 L362.65,313.89 L363.26,311.97 L363.87,310.11 L364.49,308.34 L365.10,306.65 L365.71,305.07 L366.33,303.60 L366.94,302.25 L367.55,301.04 L368.17,299.98 L368.78,299.07 L369.39,298.34 L370.01,297.78 L370.62,297.41 L371.23,297.24 L371.85,297.26 L372.46,297.49 L373.07,297.92 L373.69,298.55 L374.30,299.38 L374.92,300.39 L375.53,301.58 L376.14,302.94 L376.76,304.46 L377.37,306.11 L377.98,307.90 L378.60,309.80 L379.21,311.80 L379.82,313.88 L380.44,316.03 L381.05,318.24 L381.66,320.49 L382.28,322.78 L382.89,325.08 L383.50,327.39 L384.12,329.69 L384.73,331.99 L385.34,334.26 L385.96,336.50 L386.57,338.71 L387.18,340.87 L387.80,342.99 L388.41,345.05 L389.02,347.05 L389.64,348.99 L390.25,350.87 L390.86,352.68 L391.48,354.41 L392.09,356.08 L392.70,357.67 L393.32,359.20 L393.93,360.64 L394.54,362.02 L395.16,363.32 L395.77,364.56 L396.38,365.72 L397.00,366.82 L397.61,367.85 L398.22,368.82 L398.84,369.72 L399.45,370.57 L400.06,371.36 L400.68,372.10 L401.29,372.79 L401.90,373.43 L402.52,374.02 L403.13,374.57 L403.74,375.08 L404.36,375.56 L404.97,375.99 L405.58,376.40 L406.20,376.77 L406.81,377.12 L407.42,377.44 L408.04,377.73 L408.65,378.01 L409.26,378.26 L409.88,378.50 L410.49,378.71 L411.10,378.92 L411.72,379.10 L412.33,379.28 L412.94,379.44 L413.56,379.59 L414.17,379.74 L414.78,379.87 L415.40,379.99 L416.01,380.11 L416.62,380.22 L417.24,380.33 L417.85,380.43 L418.46,380.52 L419.08,380.61 L419.69,380.70 L420.31,380.78 L420.92,380.86 L421.53,380.93 L422.15,381.00 L422.76,381.07 L423.37,381.14 L423.99,381.20 L424.60,381.26 L425.21,381.32 L425.83,381.38 L426.44,381.44 L427.05,381.49 L427.67,381.54 L428.28,381.59 L428.89,381.64 L429.51,381.69 L430.12,381.74 L430.73,381.78 L431.35,381.83 L431.96,381.87 L432.57,381.91 L433.19,381.95 L433.80,381.99 L434.41,382.03 L435.03,382.07 L435.64,382.11 L436.25,382.14 L436.87,382.18 L437.48,382.22 L438.09,382.25 L438.71,382.28 L439.32,382.32 L439.93,382.35 L440.55,382.38 L441.16,382.41 L441.77,382.44 L442.39,382.47 L443.00,382.50" fill="none" stroke="#d95f02" stroke-width="2.4" stroke-linejoin="round" stroke-linecap="butt" stroke-opacity="1"/>
<path d="M259.60,382.01 L260.21,382.01 L260.83,382.01 L261.44,382.00 L262.05,382.00 L262.67,382.00 L263.28,382.00 L263.89,382.00 L264.51,382.00 L265.12,382.00 L265.73,381.99 L266.35,381.99 L266.96,381.99 L267.57,381.99 L268.19,381.99 L268.80,381.98 L269.41,381.98 L270.03,381.98 L270.64,381.98 L271.25,381.97 L271.87,381.97 L272.48,381.97 L273.09,381.96 L273.71,381.96 L274.32,381.96 L274.93,381.95 L275.55,381.95 L276.16,381.94 L276.77,381.94 L277.39,381.94 L278.00,381.93 L278.61,381.93 L279.23,381.92 L279.84,381.92 L280.45,381.91 L281.07,381.91 L281.68,381.90 L282.29,381.89 L282.91,381.89 L283.52,381.88 L284.14,381.87 L284.75,381.87 L285.36,381.86 L285.98,381.85 L286.59,381.85 L287.20,381.84 L287.82,381.83 L288.43,381.82 L289.04,381.81 L289.66,381.80 L290.27,381.79 L290.88,381.79 L291.50,381.78 L292.11,381.77 L292.72,381.75 L293.34,381.74 L293.95,381.73 L294.56,381.72 L295.18,381.71 L295.79,381.70 L296.40,381.68 L297.02,381.67 L297.63,381.66 L298.24,381.64 L298.86,381.63 L299.47,381.61 L300.08,381.60 L300.70,381.58 L301.31,381.57 L301.92,381.55 L302.54,381.53 L303.15,381.51 L303.76,381.49 L304.38,381.47 L304.99,381.45 L305.60,381.43 L306.22,381.41 L306.83,381.39 L307.44,381.37 L308.06,381.34 L308.67,381.32 L309.28,381.30 L309.90,381.27 L310.51,381.24 L311.12,381.22 L311.74,381.19 L312.35,381.16 L312.96,381.13 L313.58,381.09 L314.19,381.06 L314.80,381.03 L315.42,380.99 L316.03,380.96 L316.64,380.92 L317.26,380.88 L317.87,380.84 L318.48,380.79 L319.10,380.75 L319.71,380.70 L320.32,380.66 L320.94,380.61 L321.55,380.55 L322.16,380.50 L322.78,380.44 L323.39,380.38 L324.00,380.31 L324.62,380.24 L325.23,380.17 L325.84,380.10 L326.46,380.02 L327.07,379.93 L327.68,379.84 L328.30,379.74 L328.91,379.63 L329.53,379.52 L330.14,379.40 L330.75,379.26 L331.37,379.12 L331.98,378.97 L332.59,378.80 L333.21,378.61 L333.82,378.41 L334.43,378.20 L335.05,377.96 L335.66,377.69 L336.27,377.41 L336.89,377.09 L337.50,376.75 L338.11,376.37 L338.73,375.95 L339.34,375.49 L339.95,374.99 L340.57,374.44 L341.18,373.84 L341.79,373.19 L342.41,372.48 L343.02,371.70 L343.63,370.87 L344.25,369.96 L344.86,368.98 L345.47,367.93 L346.09,366.80 L346.70,365.59 L347.31,364.31 L347.93,362.95 L348.54,361.51 L349.15,359.99 L349.77,358.39 L350.38,356.72 L350.99,354.98 L351.61,353.17 L352.22,351.30 L352.83,349.38 L353.45,347.39 L354.06,345.37 L354.67,343.30 L355.29,341.19 L355.90,339.06 L356.51,336.91 L357.13,334.74 L357.74,332.56 L358.35,330.38 L358.97,328.20 L359.58,326.04 L360.19,323.90 L360.81,321.78 L361.42,319.69 L362.03,317.65 L362.65,315.65 L363.26,313.72 L363.87,311.84 L364.49,310.05 L365.10,308.34 L365.71,306.73 L366.33,305.23 L366.94,303.85 L367.55,302.60 L368.17,301.50 L368.78,300.56 L369.39,299.79 L370.01,299.20 L370.62,298.80 L371.23,298.59 L371.85,298.58 L372.46,298.77 L373.07,299.17 L373.69,299.77 L374.30,300.57 L374.92,301.55 L375.53,302.72 L376.14,304.05 L376.76,305.54 L377.37,307.17 L377.98,308.93 L378.60,310.81 L379.21,312.78 L379.82,314.84 L380.44,316.98 L381.05,319.16 L381.66,321.40 L382.28,323.66 L382.89,325.94 L383.50,328.23 L384.12,330.52 L384.73,332.80 L385.34,335.05 L385.96,337.28 L386.57,339.47 L387.18,341.62 L387.80,343.72 L388.41,345.77 L389.02,347.76 L389.64,349.68 L390.25,351.55 L390.86,353.34 L391.48,355.07 L392.09,356.72 L392.70,358.30 L393.32,359.81 L393.93,361.25 L394.54,362.61 L395.16,363.91 L395.77,365.13 L396.38,366.28 L397.00,367.37 L397.61,368.39 L398.22,369.35 L398.84,370.25 L399.45,371.09 L400.06,371.87 L400.68,372.60 L401.29,373.28 L401.90,373.91 L402.52,374.50 L403.13,375.04 L403.74,375.54 L404.36,376.01 L404.97,376.44 L405.58,376.84 L406.20,377.20 L406.81,377.54 L407.42,377.86 L408.04,378.15 L408.65,378.41 L409.26,378.66 L409.88,378.89 L410.49,379.10 L411.10,379.30 L411.72,379.48 L412.33,379.65 L412.94,379.81 L413.56,379.96 L414.17,380.09 L414.78,380.22 L415.40,380.34 L416.01,380.45 L416.62,380.56 L417.24,380.66 L417.85,380.76 L418.46,380.85 L419.08,380.93 L419.69,381.01 L420.31,381.09 L420.92,381.16 L421.53,381.23 L422.15,381.30 L422.76,381.37 L423.37,381.43 L423.99,381.49 L424.60,381.55 L425.21,381.60 L425.83,381.66 L426.44,381.71 L427.05,381.76 L427.67,381.81 L428.28,381.86 L428.89,381.90 L429.51,381.95 L430.12,381.99 L430.73,382.03 L431.35,382.07 L431.96,382.12 L432.57,382.15 L433.19,382.19 L433.80,382.23 L434.41,382.27 L435.03,382.30 L435.64,382.34 L436.25,382.37 L436.87,382.40 L437.48,382.44 L438.09,382.47 L438.71,382.50 L439.32,382.53 L439.93,382.56 L440.55,382.59 L441.16,382.62 L441.77,382.64 L442.39,382.67 L443.00,382.70" fill="none" stroke="#7570b3" stroke-width="2.0" stroke-linejoin="round" stroke-linecap="butt" stroke-opacity="1"/>
<path d="M259.60,380.91 L260.21,380.91 L260.83,380.91 L261.44,380.90 L262.05,380.90 L262.67,380.90 L263.28,380.89 L263.89,380.89 L264.51,380.88 L265.12,380.88 L265.73,380.87 L266.35,380.87 L266.96,380.86 L267.57,380.86 L268.19,380.85 L268.80,380.84 L269.41,380.84 L270.03,380.83 L270.64,380.82 L271.25,380.81 L271.87,380.80 L272.48,380.79 L273.09,380.78 L273.71,380.77 L274.32,380.75 L274.93,380.74 L275.55,380.73 L276.16,380.71 L276.77,380.70 L277.39,380.68 L278.00,380.66 L278.61,380.64 L279.23,380.62 L279.84,380.60 L280.45,380.58 L281.07,380.56 L281.68,380.54 L282.29,380.51 L282.91,380.49 L283.52,380.47 L284.14,380.44 L284.75,380.41 L285.36,380.39 L285.98,380.36 L286.59,380.33 L287.20,380.30 L287.82,380.27 L288.43,380.24 L289.04,380.21 L289.66,380.18 L290.27,380.15 L290.88,380.11 L291.50,380.08 L292.11,380.05 L292.72,380.01 L293.34,379.98 L293.95,379.94 L294.56,379.90 L295.18,379.86 L295.79,379.82 L296.40,379.78 L297.02,379.73 L297.63,379.69 L298.24,379.64 L298.86,379.59 L299.47,379.54 L300.08,379.48 L300.70,379.43 L301.31,379.37 L301.92,379.30 L302.54,379.24 L303.15,379.16 L303.76,379.09 L304.38,379.01 L304.99,378.93 L305.60,378.84 L306.22,378.74 L306.83,378.65 L307.44,378.54 L308.06,378.43 L308.67,378.32 L309.28,378.20 L309.90,378.07 L310.51,377.94 L311.12,377.79 L311.74,377.65 L312.35,377.49 L312.96,377.33 L313.58,377.16 L314.19,376.98 L314.80,376.80 L315.42,376.60 L316.03,376.40 L316.64,376.20 L317.26,375.98 L317.87,375.76 L318.48,375.53 L319.10,375.30 L319.71,375.06 L320.32,374.82 L320.94,374.57 L321.55,374.33 L322.16,374.08 L322.78,373.84 L323.39,373.60 L324.00,373.37 L324.62,373.14 L325.23,372.93 L325.84,372.73 L326.46,372.55 L327.07,372.39 L327.68,372.25 L328.30,372.13 L328.91,372.04 L329.53,371.98 L330.14,371.95 L330.75,371.95 L331.37,371.97 L331.98,372.03 L332.59,372.11 L333.21,372.23 L333.82,372.36 L334.43,372.52 L335.05,372.70 L335.66,372.90 L336.27,373.12 L336.89,373.35 L337.50,373.59 L338.11,373.83 L338.73,374.09 L339.34,374.34 L339.95,374.60 L340.57,374.86 L341.18,375.11 L341.79,375.36 L342.41,375.61 L343.02,375.86 L343.63,376.09 L344.25,376.32 L344.86,376.55 L345.47,376.76 L346.09,376.97 L346.70,377.18 L347.31,377.37 L347.93,377.56 L348.54,377.74 L349.15,377.91 L349.77,378.08 L350.38,378.23 L350.99,378.39 L351.61,378.53 L352.22,378.67 L352.83,378.81 L353.45,378.94 L354.06,379.06 L354.67,379.18 L355.29,379.29 L355.90,379.40 L356.51,379.50 L357.13,379.60 L357.74,379.69 L358.35,379.78 L358.97,379.87 L359.58,379.96 L360.19,380.04 L360.81,380.11 L361.42,380.19 L362.03,380.26 L362.65,380.33 L363.26,380.39 L363.87,380.46 L364.49,380.52 L365.10,380.58 L365.71,380.64 L366.33,380.69 L366.94,380.74 L367.55,380.79 L368.17,380.84 L368.78,380.89 L369.39,380.94 L370.01,380.98 L370.62,381.02 L371.23,381.07 L371.85,381.11 L372.46,381.15 L373.07,381.18 L373.69,381.22 L374.30,381.26 L374.92,381.29 L375.53,381.32 L376.14,381.36 L376.76,381.39 L377.37,381.42 L377.98,381.45 L378.60,381.48 L379.21,381.51 L379.82,381.54 L380.44,381.56 L381.05,381.59 L381.66,381.61 L382.28,381.64 L382.89,381.66 L383.50,381.69 L384.12,381.71 L384.73,381.73 L385.34,381.76 L385.96,381.78 L386.57,381.80 L387.18,381.82 L387.80,381.84 L388.41,381.86 L389.02,381.88 L389.64,381.90 L390.25,381.92 L390.86,381.94 L391.48,381.95 L392.09,381.97 L392.70,381.99 L393.32,382.01 L393.93,382.02 L394.54,382.04 L395.16,382.06 L395.77,382.07 L396.38,382.09 L397.00,382.10 L397.61,382.12 L398.22,382.13 L398.84,382.15 L399.45,382.16 L400.06,382.18 L400.68,382.19 L401.29,382.20 L401.90,382.22 L402.52,382.23 L403.13,382.24 L403.74,382.26 L404.36,382.27 L404.97,382.28 L405.58,382.30 L406.20,382.31 L406.81,382.32 L407.42,382.33 L408.04,382.34 L408.65,382.36 L409.26,382.37 L409.88,382.38 L410.49,382.39 L411.10,382.40 L411.72,382.41 L412.33,382.42 L412.94,382.44 L413.56,382.45 L414.17,382.46 L414.78,382.47 L415.40,382.48 L416.01,382.49 L416.62,382.50 L417.24,382.51 L417.85,382.52 L418.46,382.53 L419.08,382.54 L419.69,382.55 L420.31,382.56 L420.92,382.57 L421.53,382.58 L422.15,382.59 L422.76,382.60 L423.37,382.61 L423.99,382.62 L424.60,382.62 L425.21,382.63 L425.83,382.64 L426.44,382.65 L427.05,382.66 L427.67,382.67 L428.28,382.68 L428.89,382.69 L429.51,382.70 L430.12,382.71 L430.73,382.71 L431.35,382.72 L431.96,382.73 L432.57,382.74 L433.19,382.75 L433.80,382.76 L434.41,382.76 L435.03,382.77 L435.64,382.78 L436.25,382.79 L436.87,382.80 L437.48,382.81 L438.09,382.81 L438.71,382.82 L439.32,382.83 L439.93,382.84 L440.55,382.85 L441.16,382.85 L441.77,382.86 L442.39,382.87 L443.00,382.88" fill="none" stroke="#da338c" stroke-width="2.0" stroke-linejoin="round" stroke-linecap="butt" stroke-opacity="1"/>
<line x1="89.80" y1="92.40" x2="89.80" y2="182.20" stroke="#222" stroke-width="1.15" stroke-dasharray="3 2.85"/>
<text transform="translate(92.20,89.70) rotate(-90)" class="lb">Zr3d<tspan class="sb" dy="2.2">3/2</tspan><tspan dy="-2.2">-ZrO</tspan><tspan class="sb" dy="2.2">2</tspan></text>
<line x1="110.50" y1="92.40" x2="110.50" y2="182.20" stroke="#222" stroke-width="1.15" stroke-dasharray="3 2.85"/>
<text transform="translate(112.90,89.70) rotate(-90)" class="lb">Zr3d<tspan class="sb" dy="2.2">3/2</tspan><tspan dy="-2.2">-ZrO</tspan><tspan class="sb" dy="2.2">x</tspan><tspan dy="-2.2">N</tspan><tspan class="sb" dy="2.2">y</tspan></text>
<line x1="145.70" y1="92.50" x2="145.70" y2="182.20" stroke="#222" stroke-width="1.15" stroke-dasharray="3 2.85"/>
<text transform="translate(148.10,91.00) rotate(-90)" class="lb">Zr3d<tspan class="sb" dy="2.2">5/2</tspan><tspan dy="-2.2">-ZrO</tspan><tspan class="sb" dy="2.2">2</tspan></text>
<line x1="166.20" y1="89.50" x2="166.20" y2="182.20" stroke="#222" stroke-width="1.15" stroke-dasharray="3 2.85"/>
<text transform="translate(168.60,87.00) rotate(-90)" class="lb">Zr3d<tspan class="sb" dy="2.2">5/2</tspan><tspan dy="-2.2">-ZrO</tspan><tspan class="sb" dy="2.2">x</tspan><tspan dy="-2.2">N</tspan><tspan class="sb" dy="2.2">y</tspan></text>
<line x1="329.10" y1="47.10" x2="329.10" y2="182.00" stroke="#222" stroke-width="1.15" stroke-dasharray="3 2.85"/>
<text transform="translate(331.50,45.00) rotate(-90)" class="lb">ZrO<tspan class="sb" dy="2.2">x</tspan><tspan dy="-2.2">N</tspan><tspan class="sb" dy="2.2">y</tspan></text>
<line x1="376.00" y1="47.80" x2="376.00" y2="182.00" stroke="#222" stroke-width="1.15" stroke-dasharray="3 2.85"/>
<text transform="translate(378.40,45.00) rotate(-90)" class="lb">ZrO<tspan class="sb" dy="2.2">2</tspan></text>
<line x1="575.30" y1="49.50" x2="575.30" y2="182.00" stroke="#222" stroke-width="1.15" stroke-dasharray="3 2.85"/>
<text transform="translate(577.70,47.10) rotate(-90)" class="lb">ZrO<tspan class="sb" dy="2.2">x</tspan><tspan dy="-2.2">N</tspan><tspan class="sb" dy="2.2">y</tspan></text>
<line x1="612.80" y1="35.60" x2="612.80" y2="182.00" stroke="#222" stroke-width="1.15" stroke-dasharray="3 2.85"/>
<text transform="translate(615.20,33.30) rotate(-90)" class="lb">ZrNO</text>
<line x1="89.70" y1="304.90" x2="89.70" y2="401.60" stroke="#222" stroke-width="1.15" stroke-dasharray="3 2.85"/>
<text transform="translate(92.10,302.50) rotate(-90)" class="lb">Zr3d<tspan class="sb" dy="2.2">3/2</tspan><tspan dy="-2.2">-ZrO</tspan><tspan class="sb" dy="2.2">2</tspan></text>
<line x1="145.60" y1="295.30" x2="145.60" y2="401.60" stroke="#222" stroke-width="1.15" stroke-dasharray="3 2.85"/>
<text transform="translate(148.00,292.80) rotate(-90)" class="lb">Zr3d<tspan class="sb" dy="2.2">5/2</tspan><tspan dy="-2.2">-ZrO</tspan><tspan class="sb" dy="2.2">2</tspan></text>
<line x1="331.90" y1="270.00" x2="331.90" y2="402.00" stroke="#222" stroke-width="1.15" stroke-dasharray="3 2.85"/>
<text transform="translate(335.10,267.00) rotate(-90)" class="lb">HO</text>
<line x1="371.20" y1="277.00" x2="371.20" y2="402.00" stroke="#222" stroke-width="1.15" stroke-dasharray="3 2.85"/>
<text transform="translate(373.60,274.40) rotate(-90)" class="lb">ZrO<tspan class="sb" dy="2.2">2</tspan></text>
<rect x="20.2" y="4.5" width="204.70" height="186.00" fill="none" stroke="#8a8a8a" stroke-width="1.1"/>
<line x1="19.7" y1="190.8" x2="225.4" y2="190.8" stroke="#7a7a7a" stroke-width="1.7"/>
<line x1="17.60" y1="53.4" x2="20.2" y2="53.4" stroke="#555" stroke-width="1"/>
<line x1="17.60" y1="93.8" x2="20.2" y2="93.8" stroke="#555" stroke-width="1"/>
<line x1="17.60" y1="134.1" x2="20.2" y2="134.1" stroke="#555" stroke-width="1"/>
<line x1="17.60" y1="174.4" x2="20.2" y2="174.4" stroke="#555" stroke-width="1"/>
<line x1="29.50" y1="190.5" x2="29.50" y2="192.70" stroke="#555" stroke-width="1"/>
<text x="29.50" y="201.00" class="tk">187</text>
<line x1="52.77" y1="190.5" x2="52.77" y2="192.70" stroke="#555" stroke-width="1"/>
<text x="52.77" y="201.00" class="tk">186</text>
<line x1="76.03" y1="190.5" x2="76.03" y2="192.70" stroke="#555" stroke-width="1"/>
<text x="76.03" y="201.00" class="tk">185</text>
<line x1="99.29" y1="190.5" x2="99.29" y2="192.70" stroke="#555" stroke-width="1"/>
<text x="99.29" y="201.00" class="tk">184</text>
<line x1="122.55" y1="190.5" x2="122.55" y2="192.70" stroke="#555" stroke-width="1"/>
<text x="122.55" y="201.00" class="tk">183</text>
<line x1="145.81" y1="190.5" x2="145.81" y2="192.70" stroke="#555" stroke-width="1"/>
<text x="145.81" y="201.00" class="tk">182</text>
<line x1="169.07" y1="190.5" x2="169.07" y2="192.70" stroke="#555" stroke-width="1"/>
<text x="169.07" y="201.00" class="tk">181</text>
<line x1="192.33" y1="190.5" x2="192.33" y2="192.70" stroke="#555" stroke-width="1"/>
<text x="192.33" y="201.00" class="tk">180</text>
<line x1="215.60" y1="190.5" x2="215.60" y2="192.70" stroke="#555" stroke-width="1"/>
<text x="215.60" y="201.00" class="tk">179</text>
<text x="122.55" y="213.80" class="ax">Binding Energy (eV)</text>
<text transform="translate(13.90,96.70) rotate(-90)" class="ax" style="font-size:12.65px">Intensity (au)</text>
<rect x="247.6" y="4.5" width="205.00" height="186.00" fill="none" stroke="#8a8a8a" stroke-width="1.1"/>
<line x1="247.1" y1="190.8" x2="453.1" y2="190.8" stroke="#7a7a7a" stroke-width="1.7"/>
<line x1="245.00" y1="55.2" x2="247.6" y2="55.2" stroke="#555" stroke-width="1"/>
<line x1="245.00" y1="97.5" x2="247.6" y2="97.5" stroke="#555" stroke-width="1"/>
<line x1="245.00" y1="139.8" x2="247.6" y2="139.8" stroke="#555" stroke-width="1"/>
<line x1="245.00" y1="182.1" x2="247.6" y2="182.1" stroke="#555" stroke-width="1"/>
<line x1="256.92" y1="190.5" x2="256.92" y2="192.70" stroke="#555" stroke-width="1"/>
<text x="256.92" y="201.00" class="tk">535</text>
<line x1="280.21" y1="190.5" x2="280.21" y2="192.70" stroke="#555" stroke-width="1"/>
<text x="280.21" y="201.00" class="tk">534</text>
<line x1="303.51" y1="190.5" x2="303.51" y2="192.70" stroke="#555" stroke-width="1"/>
<text x="303.51" y="201.00" class="tk">533</text>
<line x1="326.80" y1="190.5" x2="326.80" y2="192.70" stroke="#555" stroke-width="1"/>
<text x="326.80" y="201.00" class="tk">532</text>
<line x1="350.10" y1="190.5" x2="350.10" y2="192.70" stroke="#555" stroke-width="1"/>
<text x="350.10" y="201.00" class="tk">531</text>
<line x1="373.40" y1="190.5" x2="373.40" y2="192.70" stroke="#555" stroke-width="1"/>
<text x="373.40" y="201.00" class="tk">530</text>
<line x1="396.69" y1="190.5" x2="396.69" y2="192.70" stroke="#555" stroke-width="1"/>
<text x="396.69" y="201.00" class="tk">529</text>
<line x1="419.99" y1="190.5" x2="419.99" y2="192.70" stroke="#555" stroke-width="1"/>
<text x="419.99" y="201.00" class="tk">528</text>
<line x1="443.28" y1="190.5" x2="443.28" y2="192.70" stroke="#555" stroke-width="1"/>
<text x="443.28" y="201.00" class="tk">527</text>
<text x="350.10" y="213.80" class="ax">Binding Energy (eV)</text>
<text transform="translate(241.30,96.70) rotate(-90)" class="ax" style="font-size:12.65px">Intensity (au)</text>
<rect x="475.6" y="4.5" width="204.80" height="186.00" fill="none" stroke="#8a8a8a" stroke-width="1.1"/>
<line x1="475.1" y1="190.8" x2="680.9" y2="190.8" stroke="#7a7a7a" stroke-width="1.7"/>
<line x1="473.00" y1="73.9" x2="475.6" y2="73.9" stroke="#555" stroke-width="1"/>
<line x1="473.00" y1="127.9" x2="475.6" y2="127.9" stroke="#555" stroke-width="1"/>
<line x1="473.00" y1="182.0" x2="475.6" y2="182.0" stroke="#555" stroke-width="1"/>
<line x1="496.55" y1="190.5" x2="496.55" y2="192.70" stroke="#555" stroke-width="1"/>
<text x="496.55" y="201.00" class="tk">401</text>
<line x1="519.82" y1="190.5" x2="519.82" y2="192.70" stroke="#555" stroke-width="1"/>
<text x="519.82" y="201.00" class="tk">400</text>
<line x1="543.09" y1="190.5" x2="543.09" y2="192.70" stroke="#555" stroke-width="1"/>
<text x="543.09" y="201.00" class="tk">399</text>
<line x1="566.36" y1="190.5" x2="566.36" y2="192.70" stroke="#555" stroke-width="1"/>
<text x="566.36" y="201.00" class="tk">398</text>
<line x1="589.64" y1="190.5" x2="589.64" y2="192.70" stroke="#555" stroke-width="1"/>
<text x="589.64" y="201.00" class="tk">397</text>
<line x1="612.91" y1="190.5" x2="612.91" y2="192.70" stroke="#555" stroke-width="1"/>
<text x="612.91" y="201.00" class="tk">396</text>
<line x1="636.18" y1="190.5" x2="636.18" y2="192.70" stroke="#555" stroke-width="1"/>
<text x="636.18" y="201.00" class="tk">395</text>
<line x1="659.45" y1="190.5" x2="659.45" y2="192.70" stroke="#555" stroke-width="1"/>
<text x="659.45" y="201.00" class="tk">394</text>
<text x="578.00" y="213.80" class="ax">Binding Energy (eV)</text>
<text transform="translate(469.30,96.70) rotate(-90)" class="ax" style="font-size:12.65px">Intensity (au)</text>
<rect x="20.2" y="224.1" width="204.70" height="186.00" fill="none" stroke="#8a8a8a" stroke-width="1.1"/>
<line x1="19.7" y1="410.40000000000003" x2="225.4" y2="410.40000000000003" stroke="#7a7a7a" stroke-width="1.7"/>
<line x1="17.60" y1="256.8" x2="20.2" y2="256.8" stroke="#555" stroke-width="1"/>
<line x1="17.60" y1="305.0" x2="20.2" y2="305.0" stroke="#555" stroke-width="1"/>
<line x1="17.60" y1="353.2" x2="20.2" y2="353.2" stroke="#555" stroke-width="1"/>
<line x1="17.60" y1="401.4" x2="20.2" y2="401.4" stroke="#555" stroke-width="1"/>
<line x1="29.50" y1="410.1" x2="29.50" y2="412.30" stroke="#555" stroke-width="1"/>
<text x="29.50" y="420.60" class="tk">187</text>
<line x1="52.77" y1="410.1" x2="52.77" y2="412.30" stroke="#555" stroke-width="1"/>
<text x="52.77" y="420.60" class="tk">186</text>
<line x1="76.03" y1="410.1" x2="76.03" y2="412.30" stroke="#555" stroke-width="1"/>
<text x="76.03" y="420.60" class="tk">185</text>
<line x1="99.29" y1="410.1" x2="99.29" y2="412.30" stroke="#555" stroke-width="1"/>
<text x="99.29" y="420.60" class="tk">184</text>
<line x1="122.55" y1="410.1" x2="122.55" y2="412.30" stroke="#555" stroke-width="1"/>
<text x="122.55" y="420.60" class="tk">183</text>
<line x1="145.81" y1="410.1" x2="145.81" y2="412.30" stroke="#555" stroke-width="1"/>
<text x="145.81" y="420.60" class="tk">182</text>
<line x1="169.07" y1="410.1" x2="169.07" y2="412.30" stroke="#555" stroke-width="1"/>
<text x="169.07" y="420.60" class="tk">181</text>
<line x1="192.33" y1="410.1" x2="192.33" y2="412.30" stroke="#555" stroke-width="1"/>
<text x="192.33" y="420.60" class="tk">180</text>
<line x1="215.60" y1="410.1" x2="215.60" y2="412.30" stroke="#555" stroke-width="1"/>
<text x="215.60" y="420.60" class="tk">179</text>
<text x="122.55" y="433.40" class="ax">Binding Energy (eV)</text>
<text transform="translate(13.90,316.30) rotate(-90)" class="ax" style="font-size:12.65px">Intensity (au)</text>
<rect x="247.6" y="224.1" width="205.00" height="186.00" fill="none" stroke="#8a8a8a" stroke-width="1.1"/>
<line x1="247.1" y1="410.40000000000003" x2="453.1" y2="410.40000000000003" stroke="#7a7a7a" stroke-width="1.7"/>
<line x1="245.00" y1="288.9" x2="247.6" y2="288.9" stroke="#555" stroke-width="1"/>
<line x1="245.00" y1="345.5" x2="247.6" y2="345.5" stroke="#555" stroke-width="1"/>
<line x1="245.00" y1="402.1" x2="247.6" y2="402.1" stroke="#555" stroke-width="1"/>
<line x1="256.92" y1="410.1" x2="256.92" y2="412.30" stroke="#555" stroke-width="1"/>
<text x="256.92" y="420.60" class="tk">535</text>
<line x1="280.21" y1="410.1" x2="280.21" y2="412.30" stroke="#555" stroke-width="1"/>
<text x="280.21" y="420.60" class="tk">534</text>
<line x1="303.51" y1="410.1" x2="303.51" y2="412.30" stroke="#555" stroke-width="1"/>
<text x="303.51" y="420.60" class="tk">533</text>
<line x1="326.80" y1="410.1" x2="326.80" y2="412.30" stroke="#555" stroke-width="1"/>
<text x="326.80" y="420.60" class="tk">532</text>
<line x1="350.10" y1="410.1" x2="350.10" y2="412.30" stroke="#555" stroke-width="1"/>
<text x="350.10" y="420.60" class="tk">531</text>
<line x1="373.40" y1="410.1" x2="373.40" y2="412.30" stroke="#555" stroke-width="1"/>
<text x="373.40" y="420.60" class="tk">530</text>
<line x1="396.69" y1="410.1" x2="396.69" y2="412.30" stroke="#555" stroke-width="1"/>
<text x="396.69" y="420.60" class="tk">529</text>
<line x1="419.99" y1="410.1" x2="419.99" y2="412.30" stroke="#555" stroke-width="1"/>
<text x="419.99" y="420.60" class="tk">528</text>
<line x1="443.28" y1="410.1" x2="443.28" y2="412.30" stroke="#555" stroke-width="1"/>
<text x="443.28" y="420.60" class="tk">527</text>
<text x="350.10" y="433.40" class="ax">Binding Energy (eV)</text>
<text transform="translate(241.30,316.30) rotate(-90)" class="ax" style="font-size:12.65px">Intensity (au)</text>
<text x="8.0" y="16.6" class="pl">a)</text>
<text x="236.6" y="16.6" class="pl">b)</text>
<text x="463.5" y="16.6" class="pl">c)</text>
<text x="8.6" y="235.6" class="pl">d)</text>
<text x="235.8" y="235.6" class="pl">e)</text>
</svg></body></html>
